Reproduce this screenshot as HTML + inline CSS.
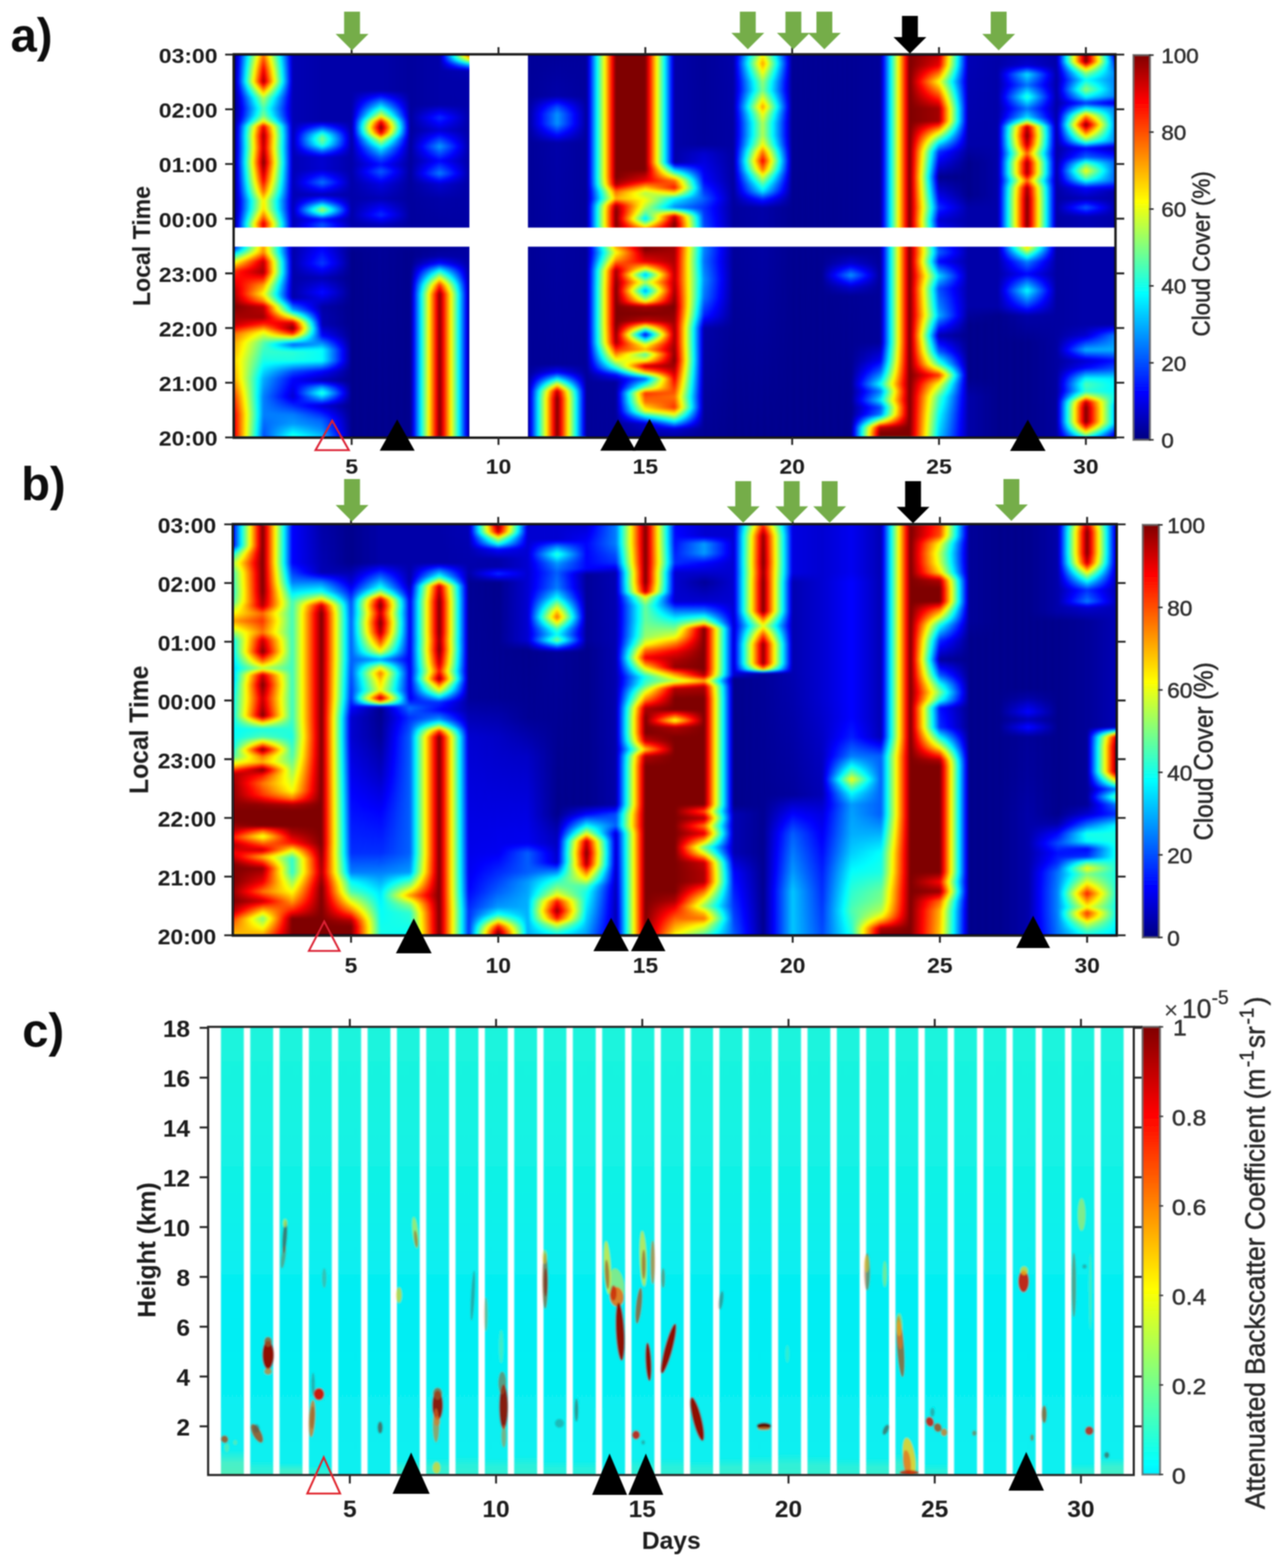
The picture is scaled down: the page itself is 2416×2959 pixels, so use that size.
<!DOCTYPE html>
<html lang="en"><head><meta charset="utf-8"><title>Cloud cover and attenuated backscatter</title>
<style>html,body{margin:0;padding:0;background:#fff}body{width:2416px;height:2959px;overflow:hidden}svg{display:block}text{font-family:"Liberation Sans", Arial, sans-serif}</style>
</head><body>
<svg width="2416" height="2959" viewBox="0 0 2416 2959" role="img" aria-label="Cloud cover and attenuated backscatter figure">
<defs>
<filter id="jetb" x="0" y="0" width="100%" height="100%" filterUnits="objectBoundingBox" color-interpolation-filters="sRGB"><feComponentTransfer><feFuncR type="table" tableValues="0 0 0 0 .5 1 1 1 .5"/><feFuncG type="table" tableValues="0 0 .5 1 1 1 .5 0 0"/><feFuncB type="table" tableValues=".5 1 1 1 .5 0 0 0 0"/></feComponentTransfer><feGaussianBlur stdDeviation="2"/></filter>
<filter id="soft" x="-5%" y="-5%" width="110%" height="110%"><feGaussianBlur stdDeviation="1.2"/></filter>
<filter id="soft2" x="-20%" y="-20%" width="140%" height="140%"><feGaussianBlur stdDeviation="1.7"/></filter>
<linearGradient id="cbj" x1="0" y1="1" x2="0" y2="0">
<stop offset="0" stop-color="rgb(0,0,128)"/>
<stop offset="0.12" stop-color="rgb(0,0,255)"/>
<stop offset="0.25" stop-color="rgb(0,128,255)"/>
<stop offset="0.38" stop-color="rgb(0,255,255)"/>
<stop offset="0.5" stop-color="rgb(128,255,128)"/>
<stop offset="0.62" stop-color="rgb(255,255,0)"/>
<stop offset="0.75" stop-color="rgb(255,128,0)"/>
<stop offset="0.88" stop-color="rgb(255,0,0)"/>
<stop offset="1" stop-color="rgb(128,0,0)"/>
</linearGradient>
</defs>
<rect width="2416" height="2959" fill="#fff"/>
<defs>
<linearGradient id="a1" gradientUnits="userSpaceOnUse" x1="0" y1="825.5" x2="0" y2="103">
<stop offset="0" stop-color="#e8e8e8"/>
<stop offset="0.0593" stop-color="#e4e4e4"/>
<stop offset="0.1063" stop-color="#d3d3d3"/>
<stop offset="0.1533" stop-color="#b8b8b8"/>
<stop offset="0.2004" stop-color="#adadad"/>
<stop offset="0.2474" stop-color="#b8b8b8"/>
<stop offset="0.2709" stop-color="#c5c5c5"/>
<stop offset="0.2944" stop-color="#efefef"/>
<stop offset="0.3415" stop-color="#ffffff"/>
<stop offset="0.3885" stop-color="#efefef"/>
<stop offset="0.4356" stop-color="#d3d3d3"/>
<stop offset="0.4591" stop-color="#999999"/>
<stop offset="0.4779" stop-color="#616161"/>
<stop offset="0.492" stop-color="#333333"/>
<stop offset="0.5296" stop-color="#000000"/>
<stop offset="1" stop-color="#000000"/>
</linearGradient>
<linearGradient id="a2" gradientUnits="userSpaceOnUse" x1="0" y1="825.5" x2="0" y2="103">
<stop offset="0" stop-color="#333333"/>
<stop offset="0.0593" stop-color="#404040"/>
<stop offset="0.1063" stop-color="#404040"/>
<stop offset="0.1533" stop-color="#4c4c4c"/>
<stop offset="0.2004" stop-color="#666666"/>
<stop offset="0.2474" stop-color="#757575"/>
<stop offset="0.2756" stop-color="#9e9e9e"/>
<stop offset="0.2944" stop-color="#d3d3d3"/>
<stop offset="0.3133" stop-color="#f6f6f6"/>
<stop offset="0.3415" stop-color="#efefef"/>
<stop offset="0.3556" stop-color="#bebebe"/>
<stop offset="0.3744" stop-color="#9e9e9e"/>
<stop offset="0.3979" stop-color="#b8b8b8"/>
<stop offset="0.4309" stop-color="#f6f6f6"/>
<stop offset="0.4591" stop-color="#efefef"/>
<stop offset="0.4826" stop-color="#bebebe"/>
<stop offset="0.4967" stop-color="#b8b8b8"/>
<stop offset="0.5296" stop-color="#d3d3d3"/>
<stop offset="0.5579" stop-color="#e8e8e8"/>
<stop offset="0.5767" stop-color="#c5c5c5"/>
<stop offset="0.5955" stop-color="#a8a8a8"/>
<stop offset="0.619" stop-color="#a3a3a3"/>
<stop offset="0.6425" stop-color="#c5c5c5"/>
<stop offset="0.6707" stop-color="#e1e1e1"/>
<stop offset="0.7178" stop-color="#ffffff"/>
<stop offset="0.7554" stop-color="#efefef"/>
<stop offset="0.7883" stop-color="#f6f6f6"/>
<stop offset="0.8119" stop-color="#e4e4e4"/>
<stop offset="0.826" stop-color="#9e9e9e"/>
<stop offset="0.8401" stop-color="#7f7f7f"/>
<stop offset="0.8589" stop-color="#737373"/>
<stop offset="0.8871" stop-color="#8c8c8c"/>
<stop offset="0.9059" stop-color="#b8b8b8"/>
<stop offset="0.9294" stop-color="#f6f6f6"/>
<stop offset="0.9624" stop-color="#e1e1e1"/>
<stop offset="1" stop-color="#c2c2c2"/>
</linearGradient>
<linearGradient id="a3" gradientUnits="userSpaceOnUse" x1="0" y1="825.5" x2="0" y2="103">
<stop offset="0" stop-color="#6b6b6b"/>
<stop offset="0.0357" stop-color="#474747"/>
<stop offset="0.0593" stop-color="#404040"/>
<stop offset="0.1063" stop-color="#151515"/>
<stop offset="0.1533" stop-color="#212121"/>
<stop offset="0.1722" stop-color="#333333"/>
<stop offset="0.2004" stop-color="#666666"/>
<stop offset="0.2239" stop-color="#6b6b6b"/>
<stop offset="0.2427" stop-color="#383838"/>
<stop offset="0.2592" stop-color="#8c8c8c"/>
<stop offset="0.2709" stop-color="#d3d3d3"/>
<stop offset="0.285" stop-color="#ffffff"/>
<stop offset="0.2992" stop-color="#e8e8e8"/>
<stop offset="0.3133" stop-color="#9e9e9e"/>
<stop offset="0.3321" stop-color="#4c4c4c"/>
<stop offset="0.365" stop-color="#0b0b0b"/>
<stop offset="0.4826" stop-color="#0b0b0b"/>
<stop offset="0.5532" stop-color="#0e0e0e"/>
<stop offset="1" stop-color="#0e0e0e"/>
</linearGradient>
<linearGradient id="a4" gradientUnits="userSpaceOnUse" x1="0" y1="825.5" x2="0" y2="103">
<stop offset="0" stop-color="#525252"/>
<stop offset="0.0216" stop-color="#424242"/>
<stop offset="0.0452" stop-color="#383838"/>
<stop offset="0.0828" stop-color="#151515"/>
<stop offset="0.0992" stop-color="#424242"/>
<stop offset="0.1157" stop-color="#6b6b6b"/>
<stop offset="0.1298" stop-color="#4c4c4c"/>
<stop offset="0.1486" stop-color="#0e0e0e"/>
<stop offset="0.1722" stop-color="#212121"/>
<stop offset="0.2004" stop-color="#616161"/>
<stop offset="0.2286" stop-color="#616161"/>
<stop offset="0.2662" stop-color="#212121"/>
<stop offset="0.2944" stop-color="#0e0e0e"/>
<stop offset="0.3415" stop-color="#0b0b0b"/>
<stop offset="0.3791" stop-color="#242424"/>
<stop offset="0.4167" stop-color="#0e0e0e"/>
<stop offset="0.4544" stop-color="#2f2f2f"/>
<stop offset="0.492" stop-color="#212121"/>
<stop offset="0.5296" stop-color="#1d1d1d"/>
<stop offset="0.5532" stop-color="#383838"/>
<stop offset="0.5696" stop-color="#242424"/>
<stop offset="0.5837" stop-color="#666666"/>
<stop offset="0.5931" stop-color="#8a8a8a"/>
<stop offset="0.6002" stop-color="#7a7a7a"/>
<stop offset="0.6143" stop-color="#404040"/>
<stop offset="0.6331" stop-color="#0e0e0e"/>
<stop offset="0.666" stop-color="#3d3d3d"/>
<stop offset="0.699" stop-color="#151515"/>
<stop offset="0.7319" stop-color="#151515"/>
<stop offset="0.7484" stop-color="#3d3d3d"/>
<stop offset="0.7648" stop-color="#707070"/>
<stop offset="0.7789" stop-color="#7f7f7f"/>
<stop offset="0.7907" stop-color="#707070"/>
<stop offset="0.8071" stop-color="#3d3d3d"/>
<stop offset="0.826" stop-color="#0b0b0b"/>
<stop offset="1" stop-color="#0b0b0b"/>
</linearGradient>
<linearGradient id="a5" gradientUnits="userSpaceOnUse" x1="0" y1="825.5" x2="0" y2="103">
<stop offset="0" stop-color="#040404"/>
<stop offset="0.4826" stop-color="#040404"/>
<stop offset="0.5296" stop-color="#0b0b0b"/>
<stop offset="1" stop-color="#0b0b0b"/>
</linearGradient>
<linearGradient id="a6" gradientUnits="userSpaceOnUse" x1="0" y1="825.5" x2="0" y2="103">
<stop offset="0" stop-color="#040404"/>
<stop offset="0.4967" stop-color="#070707"/>
<stop offset="0.5532" stop-color="#0e0e0e"/>
<stop offset="0.5814" stop-color="#2c2c2c"/>
<stop offset="0.6237" stop-color="#0e0e0e"/>
<stop offset="0.6613" stop-color="#191919"/>
<stop offset="0.6943" stop-color="#383838"/>
<stop offset="0.7131" stop-color="#242424"/>
<stop offset="0.7319" stop-color="#383838"/>
<stop offset="0.7554" stop-color="#5c5c5c"/>
<stop offset="0.7789" stop-color="#999999"/>
<stop offset="0.7954" stop-color="#e4e4e4"/>
<stop offset="0.8095" stop-color="#ffffff"/>
<stop offset="0.8236" stop-color="#e4e4e4"/>
<stop offset="0.8401" stop-color="#999999"/>
<stop offset="0.8636" stop-color="#5c5c5c"/>
<stop offset="0.8871" stop-color="#2c2c2c"/>
<stop offset="0.9059" stop-color="#0b0b0b"/>
<stop offset="1" stop-color="#0b0b0b"/>
</linearGradient>
<linearGradient id="a7" gradientUnits="userSpaceOnUse" x1="0" y1="825.5" x2="0" y2="103">
<stop offset="0" stop-color="#040404"/>
<stop offset="0.4826" stop-color="#040404"/>
<stop offset="0.5296" stop-color="#080808"/>
<stop offset="1" stop-color="#080808"/>
</linearGradient>
<linearGradient id="a8" gradientUnits="userSpaceOnUse" x1="0" y1="825.5" x2="0" y2="103">
<stop offset="0" stop-color="#ffffff"/>
<stop offset="0.3744" stop-color="#fcfcfc"/>
<stop offset="0.3979" stop-color="#d3d3d3"/>
<stop offset="0.4167" stop-color="#999999"/>
<stop offset="0.4356" stop-color="#616161"/>
<stop offset="0.4544" stop-color="#242424"/>
<stop offset="0.4732" stop-color="#0b0b0b"/>
<stop offset="0.492" stop-color="#070707"/>
<stop offset="0.6237" stop-color="#0b0b0b"/>
<stop offset="0.6613" stop-color="#151515"/>
<stop offset="0.6896" stop-color="#404040"/>
<stop offset="0.7225" stop-color="#212121"/>
<stop offset="0.7601" stop-color="#474747"/>
<stop offset="0.8024" stop-color="#151515"/>
<stop offset="0.8354" stop-color="#2c2c2c"/>
<stop offset="0.8683" stop-color="#0b0b0b"/>
<stop offset="1" stop-color="#0b0b0b"/>
</linearGradient>
<linearGradient id="a9" gradientUnits="userSpaceOnUse" x1="0" y1="825.5" x2="0" y2="103">
<stop offset="0" stop-color="#080808"/>
<stop offset="0.9294" stop-color="#0b0b0b"/>
<stop offset="0.9577" stop-color="#0e0e0e"/>
<stop offset="0.9741" stop-color="#525252"/>
<stop offset="0.9859" stop-color="#999999"/>
<stop offset="1" stop-color="#cccccc"/>
</linearGradient>
<linearGradient id="a10" gradientUnits="userSpaceOnUse" x1="0" y1="825.5" x2="0" y2="103">
<stop offset="0" stop-color="#070707"/>
<stop offset="1" stop-color="#070707"/>
</linearGradient>
<linearGradient id="a11" gradientUnits="userSpaceOnUse" x1="0" y1="825.5" x2="0" y2="103">
<stop offset="0" stop-color="#060606"/>
<stop offset="1" stop-color="#070707"/>
</linearGradient>
<linearGradient id="a12" gradientUnits="userSpaceOnUse" x1="0" y1="825.5" x2="0" y2="103">
<stop offset="0" stop-color="#ffffff"/>
<stop offset="0.1016" stop-color="#ffffff"/>
<stop offset="0.1204" stop-color="#efefef"/>
<stop offset="0.1392" stop-color="#999999"/>
<stop offset="0.1533" stop-color="#5c5c5c"/>
<stop offset="0.1698" stop-color="#212121"/>
<stop offset="0.191" stop-color="#070707"/>
<stop offset="0.7695" stop-color="#0b0b0b"/>
<stop offset="0.7977" stop-color="#2c2c2c"/>
<stop offset="0.8189" stop-color="#454545"/>
<stop offset="0.8448" stop-color="#454545"/>
<stop offset="0.8636" stop-color="#333333"/>
<stop offset="0.8918" stop-color="#0b0b0b"/>
<stop offset="1" stop-color="#070707"/>
</linearGradient>
<linearGradient id="a13" gradientUnits="userSpaceOnUse" x1="0" y1="825.5" x2="0" y2="103">
<stop offset="0" stop-color="#070707"/>
<stop offset="1" stop-color="#080808"/>
</linearGradient>
<linearGradient id="a14" gradientUnits="userSpaceOnUse" x1="0" y1="825.5" x2="0" y2="103">
<stop offset="0" stop-color="#070707"/>
<stop offset="0.1439" stop-color="#080808"/>
<stop offset="0.1627" stop-color="#212121"/>
<stop offset="0.1816" stop-color="#666666"/>
<stop offset="0.2004" stop-color="#999999"/>
<stop offset="0.2192" stop-color="#c2c2c2"/>
<stop offset="0.2474" stop-color="#f6f6f6"/>
<stop offset="0.2944" stop-color="#ffffff"/>
<stop offset="0.3415" stop-color="#ffffff"/>
<stop offset="0.3885" stop-color="#ffffff"/>
<stop offset="0.4356" stop-color="#f6f6f6"/>
<stop offset="0.4638" stop-color="#b8b8b8"/>
<stop offset="0.4826" stop-color="#9e9e9e"/>
<stop offset="0.4967" stop-color="#b2b2b2"/>
<stop offset="0.5532" stop-color="#ffffff"/>
<stop offset="0.5908" stop-color="#ffffff"/>
<stop offset="0.6049" stop-color="#f6f6f6"/>
<stop offset="0.6237" stop-color="#b2b2b2"/>
<stop offset="0.6425" stop-color="#c5c5c5"/>
<stop offset="0.6613" stop-color="#f6f6f6"/>
<stop offset="0.6802" stop-color="#ffffff"/>
<stop offset="1" stop-color="#ffffff"/>
</linearGradient>
<linearGradient id="a15" gradientUnits="userSpaceOnUse" x1="0" y1="825.5" x2="0" y2="103">
<stop offset="0" stop-color="#070707"/>
<stop offset="0.0357" stop-color="#151515"/>
<stop offset="0.0546" stop-color="#595959"/>
<stop offset="0.0687" stop-color="#999999"/>
<stop offset="0.0922" stop-color="#c2c2c2"/>
<stop offset="0.1157" stop-color="#d3d3d3"/>
<stop offset="0.1298" stop-color="#7f7f7f"/>
<stop offset="0.1533" stop-color="#383838"/>
<stop offset="0.1722" stop-color="#b8b8b8"/>
<stop offset="0.1863" stop-color="#efefef"/>
<stop offset="0.2004" stop-color="#9e9e9e"/>
<stop offset="0.2168" stop-color="#737373"/>
<stop offset="0.2286" stop-color="#b2b2b2"/>
<stop offset="0.2427" stop-color="#999999"/>
<stop offset="0.2686" stop-color="#1d1d1d"/>
<stop offset="0.2897" stop-color="#999999"/>
<stop offset="0.3039" stop-color="#efefef"/>
<stop offset="0.3227" stop-color="#ffffff"/>
<stop offset="0.3415" stop-color="#f6f6f6"/>
<stop offset="0.3556" stop-color="#999999"/>
<stop offset="0.3829" stop-color="#474747"/>
<stop offset="0.405" stop-color="#8c8c8c"/>
<stop offset="0.4252" stop-color="#4c4c4c"/>
<stop offset="0.4403" stop-color="#999999"/>
<stop offset="0.4591" stop-color="#e4e4e4"/>
<stop offset="0.492" stop-color="#ffffff"/>
<stop offset="0.5296" stop-color="#f6f6f6"/>
<stop offset="0.5532" stop-color="#999999"/>
<stop offset="0.571" stop-color="#575757"/>
<stop offset="0.5837" stop-color="#737373"/>
<stop offset="0.6002" stop-color="#8c8c8c"/>
<stop offset="0.619" stop-color="#9e9e9e"/>
<stop offset="0.6378" stop-color="#8c8c8c"/>
<stop offset="0.6519" stop-color="#adadad"/>
<stop offset="0.6707" stop-color="#e4e4e4"/>
<stop offset="0.699" stop-color="#ffffff"/>
<stop offset="1" stop-color="#ffffff"/>
</linearGradient>
<linearGradient id="a16" gradientUnits="userSpaceOnUse" x1="0" y1="825.5" x2="0" y2="103">
<stop offset="0" stop-color="#080808"/>
<stop offset="0.0216" stop-color="#151515"/>
<stop offset="0.0405" stop-color="#595959"/>
<stop offset="0.0593" stop-color="#999999"/>
<stop offset="0.0781" stop-color="#d3d3d3"/>
<stop offset="0.1063" stop-color="#c2c2c2"/>
<stop offset="0.1298" stop-color="#d3d3d3"/>
<stop offset="0.1722" stop-color="#efefef"/>
<stop offset="0.2004" stop-color="#ffffff"/>
<stop offset="0.2474" stop-color="#f6f6f6"/>
<stop offset="0.2944" stop-color="#f6f6f6"/>
<stop offset="0.3415" stop-color="#ffffff"/>
<stop offset="0.412" stop-color="#efefef"/>
<stop offset="0.492" stop-color="#f6f6f6"/>
<stop offset="0.5579" stop-color="#ffffff"/>
<stop offset="0.5767" stop-color="#efefef"/>
<stop offset="0.6002" stop-color="#424242"/>
<stop offset="0.6237" stop-color="#616161"/>
<stop offset="0.6355" stop-color="#999999"/>
<stop offset="0.6519" stop-color="#dadada"/>
<stop offset="0.6707" stop-color="#c2c2c2"/>
<stop offset="0.699" stop-color="#525252"/>
<stop offset="0.7178" stop-color="#0b0b0b"/>
<stop offset="1" stop-color="#0b0b0b"/>
</linearGradient>
<linearGradient id="a17" gradientUnits="userSpaceOnUse" x1="0" y1="825.5" x2="0" y2="103">
<stop offset="0" stop-color="#060606"/>
<stop offset="0.285" stop-color="#0b0b0b"/>
<stop offset="0.318" stop-color="#282828"/>
<stop offset="0.365" stop-color="#3d3d3d"/>
<stop offset="0.412" stop-color="#454545"/>
<stop offset="0.4591" stop-color="#3d3d3d"/>
<stop offset="0.492" stop-color="#424242"/>
<stop offset="0.5532" stop-color="#333333"/>
<stop offset="0.6002" stop-color="#2c2c2c"/>
<stop offset="0.6237" stop-color="#383838"/>
<stop offset="0.6707" stop-color="#212121"/>
<stop offset="0.7413" stop-color="#151515"/>
<stop offset="0.7648" stop-color="#080808"/>
<stop offset="1" stop-color="#070707"/>
</linearGradient>
<linearGradient id="a18" gradientUnits="userSpaceOnUse" x1="0" y1="825.5" x2="0" y2="103">
<stop offset="0" stop-color="#040404"/>
<stop offset="0.5767" stop-color="#080808"/>
<stop offset="1" stop-color="#0b0b0b"/>
</linearGradient>
<linearGradient id="a19" gradientUnits="userSpaceOnUse" x1="0" y1="825.5" x2="0" y2="103">
<stop offset="0" stop-color="#040404"/>
<stop offset="0.6002" stop-color="#0b0b0b"/>
<stop offset="0.6237" stop-color="#2c2c2c"/>
<stop offset="0.6425" stop-color="#595959"/>
<stop offset="0.6613" stop-color="#737373"/>
<stop offset="0.6849" stop-color="#9e9e9e"/>
<stop offset="0.699" stop-color="#c2c2c2"/>
<stop offset="0.7225" stop-color="#e1e1e1"/>
<stop offset="0.746" stop-color="#c2c2c2"/>
<stop offset="0.7648" stop-color="#9e9e9e"/>
<stop offset="0.7883" stop-color="#8c8c8c"/>
<stop offset="0.8213" stop-color="#8c8c8c"/>
<stop offset="0.8448" stop-color="#9e9e9e"/>
<stop offset="0.8636" stop-color="#b8b8b8"/>
<stop offset="0.8824" stop-color="#9e9e9e"/>
<stop offset="0.9059" stop-color="#7f7f7f"/>
<stop offset="0.9294" stop-color="#858585"/>
<stop offset="0.953" stop-color="#9e9e9e"/>
<stop offset="0.9765" stop-color="#b8b8b8"/>
<stop offset="1" stop-color="#9e9e9e"/>
</linearGradient>
<linearGradient id="a20" gradientUnits="userSpaceOnUse" x1="0" y1="825.5" x2="0" y2="103">
<stop offset="0" stop-color="#040404"/>
<stop offset="1" stop-color="#060606"/>
</linearGradient>
<linearGradient id="a21" gradientUnits="userSpaceOnUse" x1="0" y1="825.5" x2="0" y2="103">
<stop offset="0" stop-color="#040404"/>
<stop offset="1" stop-color="#060606"/>
</linearGradient>
<linearGradient id="a22" gradientUnits="userSpaceOnUse" x1="0" y1="825.5" x2="0" y2="103">
<stop offset="0" stop-color="#040404"/>
<stop offset="0.3697" stop-color="#060606"/>
<stop offset="0.3932" stop-color="#151515"/>
<stop offset="0.4238" stop-color="#454545"/>
<stop offset="0.4544" stop-color="#151515"/>
<stop offset="0.4826" stop-color="#060606"/>
<stop offset="1" stop-color="#060606"/>
</linearGradient>
<linearGradient id="a23" gradientUnits="userSpaceOnUse" x1="0" y1="825.5" x2="0" y2="103">
<stop offset="0" stop-color="#ffffff"/>
<stop offset="0.0122" stop-color="#ffffff"/>
<stop offset="0.0263" stop-color="#efefef"/>
<stop offset="0.0405" stop-color="#999999"/>
<stop offset="0.0593" stop-color="#404040"/>
<stop offset="0.0781" stop-color="#333333"/>
<stop offset="0.0969" stop-color="#595959"/>
<stop offset="0.1204" stop-color="#404040"/>
<stop offset="0.1392" stop-color="#616161"/>
<stop offset="0.1722" stop-color="#383838"/>
<stop offset="0.2004" stop-color="#1d1d1d"/>
<stop offset="0.2474" stop-color="#070707"/>
<stop offset="1" stop-color="#070707"/>
</linearGradient>
<linearGradient id="a24" gradientUnits="userSpaceOnUse" x1="0" y1="825.5" x2="0" y2="103">
<stop offset="0" stop-color="#ffffff"/>
<stop offset="1" stop-color="#ffffff"/>
</linearGradient>
<linearGradient id="a25" gradientUnits="userSpaceOnUse" x1="0" y1="825.5" x2="0" y2="103">
<stop offset="0" stop-color="#525252"/>
<stop offset="0.0593" stop-color="#616161"/>
<stop offset="0.1063" stop-color="#737373"/>
<stop offset="0.1392" stop-color="#9e9e9e"/>
<stop offset="0.1627" stop-color="#d3d3d3"/>
<stop offset="0.191" stop-color="#737373"/>
<stop offset="0.2239" stop-color="#383838"/>
<stop offset="0.2662" stop-color="#0d0d0d"/>
<stop offset="0.318" stop-color="#4c4c4c"/>
<stop offset="0.3415" stop-color="#424242"/>
<stop offset="0.3885" stop-color="#333333"/>
<stop offset="0.4214" stop-color="#575757"/>
<stop offset="0.4591" stop-color="#212121"/>
<stop offset="0.4826" stop-color="#383838"/>
<stop offset="0.5673" stop-color="#151515"/>
<stop offset="0.6002" stop-color="#2c2c2c"/>
<stop offset="0.6425" stop-color="#151515"/>
<stop offset="0.6802" stop-color="#040404"/>
<stop offset="0.746" stop-color="#2c2c2c"/>
<stop offset="0.7648" stop-color="#525252"/>
<stop offset="0.7836" stop-color="#7f7f7f"/>
<stop offset="0.8024" stop-color="#b2b2b2"/>
<stop offset="0.826" stop-color="#f6f6f6"/>
<stop offset="0.8589" stop-color="#f6f6f6"/>
<stop offset="0.8824" stop-color="#dadada"/>
<stop offset="0.9294" stop-color="#9e9e9e"/>
<stop offset="0.9718" stop-color="#e4e4e4"/>
<stop offset="1" stop-color="#efefef"/>
</linearGradient>
<linearGradient id="a26" gradientUnits="userSpaceOnUse" x1="0" y1="825.5" x2="0" y2="103">
<stop offset="0" stop-color="#0b0b0b"/>
<stop offset="0.1063" stop-color="#0b0b0b"/>
<stop offset="0.1533" stop-color="#040404"/>
<stop offset="0.2944" stop-color="#040404"/>
<stop offset="0.3415" stop-color="#0b0b0b"/>
<stop offset="0.6002" stop-color="#0b0b0b"/>
<stop offset="0.6331" stop-color="#040404"/>
<stop offset="0.7178" stop-color="#040404"/>
<stop offset="0.7648" stop-color="#0b0b0b"/>
<stop offset="1" stop-color="#0e0e0e"/>
</linearGradient>
<linearGradient id="a27" gradientUnits="userSpaceOnUse" x1="0" y1="825.5" x2="0" y2="103">
<stop offset="0" stop-color="#040404"/>
<stop offset="0.318" stop-color="#040404"/>
<stop offset="0.3415" stop-color="#0b0b0b"/>
<stop offset="1" stop-color="#0b0b0b"/>
</linearGradient>
<linearGradient id="a28" gradientUnits="userSpaceOnUse" x1="0" y1="825.5" x2="0" y2="103">
<stop offset="0" stop-color="#040404"/>
<stop offset="0.2474" stop-color="#040404"/>
<stop offset="0.318" stop-color="#0b0b0b"/>
<stop offset="0.3415" stop-color="#2c2c2c"/>
<stop offset="0.3838" stop-color="#616161"/>
<stop offset="0.4262" stop-color="#212121"/>
<stop offset="0.4591" stop-color="#404040"/>
<stop offset="0.4779" stop-color="#737373"/>
<stop offset="0.492" stop-color="#9e9e9e"/>
<stop offset="0.5532" stop-color="#ffffff"/>
<stop offset="0.6237" stop-color="#ffffff"/>
<stop offset="0.6519" stop-color="#f6f6f6"/>
<stop offset="0.6707" stop-color="#c5c5c5"/>
<stop offset="0.6896" stop-color="#f6f6f6"/>
<stop offset="0.7178" stop-color="#f6f6f6"/>
<stop offset="0.7413" stop-color="#c5c5c5"/>
<stop offset="0.7648" stop-color="#efefef"/>
<stop offset="0.7883" stop-color="#ffffff"/>
<stop offset="0.8119" stop-color="#efefef"/>
<stop offset="0.8213" stop-color="#9e9e9e"/>
<stop offset="0.8354" stop-color="#595959"/>
<stop offset="0.8589" stop-color="#3d3d3d"/>
<stop offset="0.8895" stop-color="#6b6b6b"/>
<stop offset="0.92" stop-color="#3d3d3d"/>
<stop offset="0.9483" stop-color="#595959"/>
<stop offset="0.9718" stop-color="#151515"/>
<stop offset="1" stop-color="#0e0e0e"/>
</linearGradient>
<linearGradient id="a29" gradientUnits="userSpaceOnUse" x1="0" y1="825.5" x2="0" y2="103">
<stop offset="0" stop-color="#080808"/>
<stop offset="1" stop-color="#0b0b0b"/>
</linearGradient>
<linearGradient id="a30" gradientUnits="userSpaceOnUse" x1="0" y1="825.5" x2="0" y2="103">
<stop offset="0" stop-color="#666666"/>
<stop offset="0.0122" stop-color="#999999"/>
<stop offset="0.0263" stop-color="#d3d3d3"/>
<stop offset="0.0405" stop-color="#ffffff"/>
<stop offset="0.0781" stop-color="#ffffff"/>
<stop offset="0.0922" stop-color="#efefef"/>
<stop offset="0.1063" stop-color="#9e9e9e"/>
<stop offset="0.1204" stop-color="#6b6b6b"/>
<stop offset="0.1392" stop-color="#737373"/>
<stop offset="0.1533" stop-color="#616161"/>
<stop offset="0.1816" stop-color="#212121"/>
<stop offset="0.2004" stop-color="#151515"/>
<stop offset="0.2286" stop-color="#4c4c4c"/>
<stop offset="0.2662" stop-color="#151515"/>
<stop offset="0.2944" stop-color="#0b0b0b"/>
<stop offset="0.492" stop-color="#0b0b0b"/>
<stop offset="0.5767" stop-color="#0e0e0e"/>
<stop offset="0.6002" stop-color="#383838"/>
<stop offset="0.6237" stop-color="#0e0e0e"/>
<stop offset="0.6519" stop-color="#212121"/>
<stop offset="0.6754" stop-color="#737373"/>
<stop offset="0.6966" stop-color="#9e9e9e"/>
<stop offset="0.7131" stop-color="#7a7a7a"/>
<stop offset="0.7319" stop-color="#383838"/>
<stop offset="0.7554" stop-color="#212121"/>
<stop offset="0.7742" stop-color="#7a7a7a"/>
<stop offset="0.793" stop-color="#b8b8b8"/>
<stop offset="0.8166" stop-color="#ffffff"/>
<stop offset="0.8401" stop-color="#b8b8b8"/>
<stop offset="0.8542" stop-color="#737373"/>
<stop offset="0.873" stop-color="#2c2c2c"/>
<stop offset="0.8871" stop-color="#595959"/>
<stop offset="0.9083" stop-color="#858585"/>
<stop offset="0.9341" stop-color="#616161"/>
<stop offset="0.953" stop-color="#858585"/>
<stop offset="0.9671" stop-color="#b8b8b8"/>
<stop offset="0.9812" stop-color="#ffffff"/>
<stop offset="1" stop-color="#ffffff"/>
</linearGradient>
<linearGradient id="a31" gradientUnits="userSpaceOnUse" x1="0" y1="825.5" x2="0" y2="103">
<stop offset="0" stop-color="#151515"/>
<stop offset="0.0122" stop-color="#212121"/>
<stop offset="0.0357" stop-color="#4c4c4c"/>
<stop offset="0.0828" stop-color="#4c4c4c"/>
<stop offset="0.1063" stop-color="#616161"/>
<stop offset="0.1533" stop-color="#5c5c5c"/>
<stop offset="0.1769" stop-color="#383838"/>
<stop offset="0.2004" stop-color="#242424"/>
<stop offset="0.2286" stop-color="#4c4c4c"/>
<stop offset="0.2662" stop-color="#404040"/>
<stop offset="0.2944" stop-color="#0b0b0b"/>
<stop offset="0.6425" stop-color="#0b0b0b"/>
<stop offset="0.6707" stop-color="#383838"/>
<stop offset="0.7178" stop-color="#383838"/>
<stop offset="0.7554" stop-color="#0e0e0e"/>
<stop offset="0.7742" stop-color="#404040"/>
<stop offset="0.8589" stop-color="#404040"/>
<stop offset="0.873" stop-color="#151515"/>
<stop offset="0.8918" stop-color="#404040"/>
<stop offset="0.953" stop-color="#404040"/>
<stop offset="1" stop-color="#151515"/>
</linearGradient>
<linearGradient id="asaw1" gradientUnits="userSpaceOnUse" x1="442" y1="0" x2="552.87" y2="0" spreadMethod="repeat"><stop offset="0" stop-color="#fff" stop-opacity="0"/><stop offset="0.5" stop-color="#fff" stop-opacity="1"/><stop offset="0.5" stop-color="#fff" stop-opacity="0"/><stop offset="1" stop-color="#fff" stop-opacity="0"/></linearGradient>
<mask id="am1" maskUnits="userSpaceOnUse" x="437" y="103" width="1673" height="722.5" style="mask-type:alpha"><rect x="437" y="103" width="1673" height="722.5" fill="url(#asaw1)"/></mask>
<linearGradient id="asaw2" gradientUnits="userSpaceOnUse" x1="497.43" y1="0" x2="608.3" y2="0" spreadMethod="repeat"><stop offset="0" stop-color="#fff" stop-opacity="0"/><stop offset="0.5" stop-color="#fff" stop-opacity="1"/><stop offset="0.5" stop-color="#fff" stop-opacity="0"/><stop offset="1" stop-color="#fff" stop-opacity="0"/></linearGradient>
<mask id="am2" maskUnits="userSpaceOnUse" x="437" y="103" width="1673" height="722.5" style="mask-type:alpha"><rect x="437" y="103" width="1673" height="722.5" fill="url(#asaw2)"/></mask>
<clipPath id="ac"><rect x="442" y="103" width="1663" height="722.5"/></clipPath>
</defs>
<g clip-path="url(#ac)"><g filter="url(#jetb)">
<rect x="422" y="83" width="1703" height="762.5" fill="#000"/>
<rect x="440.5" y="103" width="56.93" height="722.5" fill="url(#a1)"/>
<rect x="495.93" y="103" width="56.93" height="722.5" fill="url(#a2)"/>
<rect x="551.37" y="103" width="56.93" height="722.5" fill="url(#a3)"/>
<rect x="606.8" y="103" width="56.93" height="722.5" fill="url(#a4)"/>
<rect x="662.23" y="103" width="56.93" height="722.5" fill="url(#a5)"/>
<rect x="717.67" y="103" width="56.93" height="722.5" fill="url(#a6)"/>
<rect x="773.1" y="103" width="56.93" height="722.5" fill="url(#a7)"/>
<rect x="828.53" y="103" width="56.93" height="722.5" fill="url(#a8)"/>
<rect x="883.97" y="103" width="56.93" height="722.5" fill="url(#a9)"/>
<rect x="939.4" y="103" width="56.93" height="722.5" fill="url(#a10)"/>
<rect x="994.83" y="103" width="56.93" height="722.5" fill="url(#a11)"/>
<rect x="1050.27" y="103" width="56.93" height="722.5" fill="url(#a12)"/>
<rect x="1105.7" y="103" width="56.93" height="722.5" fill="url(#a13)"/>
<rect x="1161.13" y="103" width="56.93" height="722.5" fill="url(#a14)"/>
<rect x="1216.57" y="103" width="56.93" height="722.5" fill="url(#a15)"/>
<rect x="1272" y="103" width="56.93" height="722.5" fill="url(#a16)"/>
<rect x="1327.43" y="103" width="56.93" height="722.5" fill="url(#a17)"/>
<rect x="1382.87" y="103" width="56.93" height="722.5" fill="url(#a18)"/>
<rect x="1438.3" y="103" width="56.93" height="722.5" fill="url(#a19)"/>
<rect x="1493.73" y="103" width="56.93" height="722.5" fill="url(#a20)"/>
<rect x="1549.17" y="103" width="56.93" height="722.5" fill="url(#a21)"/>
<rect x="1604.6" y="103" width="56.93" height="722.5" fill="url(#a22)"/>
<rect x="1660.03" y="103" width="56.93" height="722.5" fill="url(#a23)"/>
<rect x="1715.47" y="103" width="56.93" height="722.5" fill="url(#a24)"/>
<rect x="1770.9" y="103" width="56.93" height="722.5" fill="url(#a25)"/>
<rect x="1826.33" y="103" width="56.93" height="722.5" fill="url(#a26)"/>
<rect x="1881.77" y="103" width="56.93" height="722.5" fill="url(#a27)"/>
<rect x="1937.2" y="103" width="56.93" height="722.5" fill="url(#a28)"/>
<rect x="1992.63" y="103" width="56.93" height="722.5" fill="url(#a29)"/>
<rect x="2048.07" y="103" width="56.93" height="722.5" fill="url(#a30)"/>
<g mask="url(#am1)">
<rect x="442" y="103" width="56.93" height="722.5" fill="url(#a2)"/>
<rect x="552.87" y="103" width="56.93" height="722.5" fill="url(#a4)"/>
<rect x="663.73" y="103" width="56.93" height="722.5" fill="url(#a6)"/>
<rect x="774.6" y="103" width="56.93" height="722.5" fill="url(#a8)"/>
<rect x="885.47" y="103" width="56.93" height="722.5" fill="url(#a10)"/>
<rect x="996.33" y="103" width="56.93" height="722.5" fill="url(#a12)"/>
<rect x="1107.2" y="103" width="56.93" height="722.5" fill="url(#a14)"/>
<rect x="1218.07" y="103" width="56.93" height="722.5" fill="url(#a16)"/>
<rect x="1328.93" y="103" width="56.93" height="722.5" fill="url(#a18)"/>
<rect x="1439.8" y="103" width="56.93" height="722.5" fill="url(#a20)"/>
<rect x="1550.67" y="103" width="56.93" height="722.5" fill="url(#a22)"/>
<rect x="1661.53" y="103" width="56.93" height="722.5" fill="url(#a24)"/>
<rect x="1772.4" y="103" width="56.93" height="722.5" fill="url(#a26)"/>
<rect x="1883.27" y="103" width="56.93" height="722.5" fill="url(#a28)"/>
<rect x="1994.13" y="103" width="56.93" height="722.5" fill="url(#a30)"/>
</g>
<g mask="url(#am2)">
<rect x="497.43" y="103" width="56.93" height="722.5" fill="url(#a3)"/>
<rect x="608.3" y="103" width="56.93" height="722.5" fill="url(#a5)"/>
<rect x="719.17" y="103" width="56.93" height="722.5" fill="url(#a7)"/>
<rect x="830.03" y="103" width="56.93" height="722.5" fill="url(#a9)"/>
<rect x="940.9" y="103" width="56.93" height="722.5" fill="url(#a11)"/>
<rect x="1051.77" y="103" width="56.93" height="722.5" fill="url(#a13)"/>
<rect x="1162.63" y="103" width="56.93" height="722.5" fill="url(#a15)"/>
<rect x="1273.5" y="103" width="56.93" height="722.5" fill="url(#a17)"/>
<rect x="1384.37" y="103" width="56.93" height="722.5" fill="url(#a19)"/>
<rect x="1495.23" y="103" width="56.93" height="722.5" fill="url(#a21)"/>
<rect x="1606.1" y="103" width="56.93" height="722.5" fill="url(#a23)"/>
<rect x="1716.97" y="103" width="56.93" height="722.5" fill="url(#a25)"/>
<rect x="1827.83" y="103" width="56.93" height="722.5" fill="url(#a27)"/>
<rect x="1938.7" y="103" width="56.93" height="722.5" fill="url(#a29)"/>
<rect x="2049.57" y="103" width="56.93" height="722.5" fill="url(#a31)"/>
</g>
</g></g>
<rect x="886" y="100" width="110.5" height="728" fill="#fff" filter="url(#soft)"/>
<rect x="440" y="429.5" width="1668" height="36" fill="#fff" filter="url(#soft)"/>
<g filter="url(#soft)">
<path d="M441 102.5H2105.5V826H441Z" fill="none" stroke="#161616" stroke-width="4.4"/>
<path d="M441 825.5h-16M2106 825.5h16M441 722.29h-16M2106 722.29h16M441 619.07h-16M2106 619.07h16M441 515.86h-16M2106 515.86h16M441 412.64h-16M2106 412.64h16M441 309.43h-16M2106 309.43h16M441 206.21h-16M2106 206.21h16M441 103h-16M2106 103h16M663.73 825.5v14M663.73 103v-14M940.9 825.5v14M940.9 103v-14M1218.07 825.5v14M1218.07 103v-14M1495.23 825.5v14M1495.23 103v-14M1772.4 825.5v14M1772.4 103v-14M2049.57 825.5v14M2049.57 103v-14" stroke="#262626" stroke-width="3.6" fill="none"/>
<rect x="2139.5" y="104" width="31" height="726" fill="url(#cbj)"/>
<rect x="2139.5" y="104" width="31" height="726" fill="none" stroke="#555" stroke-opacity="0.75" stroke-width="4"/>
<path d="M2177.5 830h-9M2177.5 684.8h-9M2177.5 539.6h-9M2177.5 394.4h-9M2177.5 249.2h-9M2177.5 104h-9" stroke="#333" stroke-width="3" fill="none"/>
<text transform="translate(410.5 841.46) scale(1.11 1)" font-size="39" text-anchor="end" font-weight="bold" fill="#1c1c1c">20:00</text>
<text transform="translate(410.5 738.25) scale(1.11 1)" font-size="39" text-anchor="end" font-weight="bold" fill="#1c1c1c">21:00</text>
<text transform="translate(410.5 635.03) scale(1.11 1)" font-size="39" text-anchor="end" font-weight="bold" fill="#1c1c1c">22:00</text>
<text transform="translate(410.5 531.82) scale(1.11 1)" font-size="39" text-anchor="end" font-weight="bold" fill="#1c1c1c">23:00</text>
<text transform="translate(410.5 428.6) scale(1.11 1)" font-size="39" text-anchor="end" font-weight="bold" fill="#1c1c1c">00:00</text>
<text transform="translate(410.5 325.39) scale(1.11 1)" font-size="39" text-anchor="end" font-weight="bold" fill="#1c1c1c">01:00</text>
<text transform="translate(410.5 222.18) scale(1.11 1)" font-size="39" text-anchor="end" font-weight="bold" fill="#1c1c1c">02:00</text>
<text transform="translate(410.5 118.96) scale(1.11 1)" font-size="39" text-anchor="end" font-weight="bold" fill="#1c1c1c">03:00</text>
<text transform="translate(663.73 894) scale(1.11 1)" font-size="39" text-anchor="middle" font-weight="bold" fill="#1c1c1c">5</text>
<text transform="translate(940.9 894) scale(1.11 1)" font-size="39" text-anchor="middle" font-weight="bold" fill="#1c1c1c">10</text>
<text transform="translate(1218.07 894) scale(1.11 1)" font-size="39" text-anchor="middle" font-weight="bold" fill="#1c1c1c">15</text>
<text transform="translate(1495.23 894) scale(1.11 1)" font-size="39" text-anchor="middle" font-weight="bold" fill="#1c1c1c">20</text>
<text transform="translate(1772.4 894) scale(1.11 1)" font-size="39" text-anchor="middle" font-weight="bold" fill="#1c1c1c">25</text>
<text transform="translate(2049.57 894) scale(1.11 1)" font-size="39" text-anchor="middle" font-weight="bold" fill="#1c1c1c">30</text>
<text transform="translate(2192 844.78) scale(1.1 1)" font-size="38.5" text-anchor="start" font-weight="normal" fill="#333" stroke="#333" stroke-width="0.9">0</text>
<text transform="translate(2192 699.58) scale(1.1 1)" font-size="38.5" text-anchor="start" font-weight="normal" fill="#333" stroke="#333" stroke-width="0.9">20</text>
<text transform="translate(2192 554.38) scale(1.1 1)" font-size="38.5" text-anchor="start" font-weight="normal" fill="#333" stroke="#333" stroke-width="0.9">40</text>
<text transform="translate(2192 409.18) scale(1.1 1)" font-size="38.5" text-anchor="start" font-weight="normal" fill="#333" stroke="#333" stroke-width="0.9">60</text>
<text transform="translate(2192 263.98) scale(1.1 1)" font-size="38.5" text-anchor="start" font-weight="normal" fill="#333" stroke="#333" stroke-width="0.9">80</text>
<text transform="translate(2192 118.78) scale(1.1 1)" font-size="38.5" text-anchor="start" font-weight="normal" fill="#333" stroke="#333" stroke-width="0.9">100</text>
<text transform="translate(283.5 464.25) scale(1.08 1) rotate(-90)" font-size="43.5" text-anchor="middle" font-weight="bold" fill="#1c1c1c">Local Time</text>
<text transform="translate(2283.5 479) scale(1.08 1) rotate(-90)" font-size="42.2" text-anchor="middle" font-weight="normal" fill="#2a2a2a" stroke="#2a2a2a" stroke-width="0.9">Cloud Cover (%)</text>
<path d="M649.5 22H679.5V64H695.5L664.5 95L633.5 64H649.5Z" fill="#74ad4a"/>
<path d="M1396.5 22H1426.5V62H1442.5L1411.5 93L1380.5 62H1396.5Z" fill="#74ad4a"/>
<path d="M1482.5 22H1512.5V62H1528.5L1497.5 93L1466.5 62H1482.5Z" fill="#74ad4a"/>
<path d="M1541 22H1571V62H1587L1556 93L1525 62H1541Z" fill="#74ad4a"/>
<path d="M1702.5 30H1732.5V70H1748.5L1717.5 101L1686.5 70H1702.5Z" fill="#000"/>
<path d="M1870 22H1900V64H1916L1885 95L1854 64H1870Z" fill="#74ad4a"/>
<path d="M595.5 849.5L627 794L658.5 849.5Z" fill="none" stroke="#dc2034" stroke-width="3.6" stroke-linejoin="miter"/>
<path d="M716.7 850.5L749.7 791.5L782.7 850.5Z" fill="#000"/>
<path d="M1133 850.5L1166.5 791.5L1200 850.5Z" fill="#000"/>
<path d="M1194 850.5L1226 790.5L1258 850.5Z" fill="#000"/>
<path d="M1906.5 851L1940 792L1973.5 851Z" fill="#000"/>
<text transform="translate(20 96.5)" font-size="89" text-anchor="start" font-weight="bold" fill="#0c0c0c">a)</text>
</g>
<defs>
<linearGradient id="b1" gradientUnits="userSpaceOnUse" x1="0" y1="1765" x2="0" y2="989.5">
<stop offset="0" stop-color="#adadad"/>
<stop offset="0.0122" stop-color="#b8b8b8"/>
<stop offset="0.0357" stop-color="#cbcbcb"/>
<stop offset="0.0593" stop-color="#f3f3f3"/>
<stop offset="0.0828" stop-color="#ffffff"/>
<stop offset="0.1063" stop-color="#fafafa"/>
<stop offset="0.1298" stop-color="#ffffff"/>
<stop offset="0.1722" stop-color="#ffffff"/>
<stop offset="0.2004" stop-color="#e3e3e3"/>
<stop offset="0.2192" stop-color="#f3f3f3"/>
<stop offset="0.238" stop-color="#d9d9d9"/>
<stop offset="0.2568" stop-color="#f3f3f3"/>
<stop offset="0.2756" stop-color="#ffffff"/>
<stop offset="0.3039" stop-color="#ffffff"/>
<stop offset="0.318" stop-color="#fdfdfd"/>
<stop offset="0.365" stop-color="#fafafa"/>
<stop offset="0.3932" stop-color="#f3f3f3"/>
<stop offset="0.412" stop-color="#adadad"/>
<stop offset="0.4356" stop-color="#737373"/>
<stop offset="0.4591" stop-color="#616161"/>
<stop offset="0.5767" stop-color="#616161"/>
<stop offset="0.6237" stop-color="#525252"/>
<stop offset="0.6707" stop-color="#595959"/>
<stop offset="0.7178" stop-color="#616161"/>
<stop offset="0.746" stop-color="#999999"/>
<stop offset="0.7648" stop-color="#b8b8b8"/>
<stop offset="0.7883" stop-color="#999999"/>
<stop offset="0.8119" stop-color="#737373"/>
<stop offset="0.8354" stop-color="#6b6b6b"/>
<stop offset="0.8824" stop-color="#737373"/>
<stop offset="0.9059" stop-color="#8c8c8c"/>
<stop offset="0.9294" stop-color="#616161"/>
<stop offset="0.9483" stop-color="#212121"/>
<stop offset="1" stop-color="#212121"/>
</linearGradient>
<linearGradient id="b2" gradientUnits="userSpaceOnUse" x1="0" y1="1765" x2="0" y2="989.5">
<stop offset="0" stop-color="#b8b8b8"/>
<stop offset="0.0216" stop-color="#999999"/>
<stop offset="0.0405" stop-color="#7f7f7f"/>
<stop offset="0.0593" stop-color="#adadad"/>
<stop offset="0.0828" stop-color="#ededed"/>
<stop offset="0.1063" stop-color="#c2c2c2"/>
<stop offset="0.1298" stop-color="#e3e3e3"/>
<stop offset="0.1627" stop-color="#fafafa"/>
<stop offset="0.191" stop-color="#b2b2b2"/>
<stop offset="0.2074" stop-color="#ededed"/>
<stop offset="0.2239" stop-color="#c5c5c5"/>
<stop offset="0.2404" stop-color="#999999"/>
<stop offset="0.2545" stop-color="#c5c5c5"/>
<stop offset="0.2662" stop-color="#ffffff"/>
<stop offset="0.3039" stop-color="#ffffff"/>
<stop offset="0.318" stop-color="#fafafa"/>
<stop offset="0.3415" stop-color="#d2d2d2"/>
<stop offset="0.3697" stop-color="#c2c2c2"/>
<stop offset="0.3885" stop-color="#d9d9d9"/>
<stop offset="0.4026" stop-color="#ffffff"/>
<stop offset="0.4214" stop-color="#b2b2b2"/>
<stop offset="0.4356" stop-color="#c2c2c2"/>
<stop offset="0.452" stop-color="#ffffff"/>
<stop offset="0.4638" stop-color="#c2c2c2"/>
<stop offset="0.4826" stop-color="#737373"/>
<stop offset="0.5014" stop-color="#666666"/>
<stop offset="0.5155" stop-color="#9e9e9e"/>
<stop offset="0.5343" stop-color="#ffffff"/>
<stop offset="0.5579" stop-color="#f3f3f3"/>
<stop offset="0.5767" stop-color="#ededed"/>
<stop offset="0.6096" stop-color="#ffffff"/>
<stop offset="0.6331" stop-color="#ededed"/>
<stop offset="0.6496" stop-color="#8c8c8c"/>
<stop offset="0.666" stop-color="#c2c2c2"/>
<stop offset="0.6896" stop-color="#ffffff"/>
<stop offset="0.7178" stop-color="#ededed"/>
<stop offset="0.7366" stop-color="#c2c2c2"/>
<stop offset="0.7648" stop-color="#d2d2d2"/>
<stop offset="0.7836" stop-color="#c5c5c5"/>
<stop offset="0.8024" stop-color="#f3f3f3"/>
<stop offset="0.8354" stop-color="#ffffff"/>
<stop offset="1" stop-color="#ffffff"/>
</linearGradient>
<linearGradient id="b3" gradientUnits="userSpaceOnUse" x1="0" y1="1765" x2="0" y2="989.5">
<stop offset="0" stop-color="#ffffff"/>
<stop offset="0.0405" stop-color="#ffffff"/>
<stop offset="0.0593" stop-color="#d9d9d9"/>
<stop offset="0.0828" stop-color="#b8b8b8"/>
<stop offset="0.1063" stop-color="#9e9e9e"/>
<stop offset="0.1298" stop-color="#858585"/>
<stop offset="0.1533" stop-color="#6b6b6b"/>
<stop offset="0.1863" stop-color="#6b6b6b"/>
<stop offset="0.2051" stop-color="#999999"/>
<stop offset="0.2239" stop-color="#d9d9d9"/>
<stop offset="0.2474" stop-color="#f3f3f3"/>
<stop offset="0.2662" stop-color="#ffffff"/>
<stop offset="0.3039" stop-color="#ffffff"/>
<stop offset="0.318" stop-color="#f3f3f3"/>
<stop offset="0.3321" stop-color="#c2c2c2"/>
<stop offset="0.3509" stop-color="#9e9e9e"/>
<stop offset="0.3885" stop-color="#8c8c8c"/>
<stop offset="0.4356" stop-color="#737373"/>
<stop offset="0.4826" stop-color="#666666"/>
<stop offset="0.5296" stop-color="#6e6e6e"/>
<stop offset="0.7648" stop-color="#707070"/>
<stop offset="0.8119" stop-color="#707070"/>
<stop offset="0.8354" stop-color="#595959"/>
<stop offset="0.8589" stop-color="#404040"/>
<stop offset="0.9059" stop-color="#212121"/>
<stop offset="1" stop-color="#212121"/>
</linearGradient>
<linearGradient id="b4" gradientUnits="userSpaceOnUse" x1="0" y1="1765" x2="0" y2="989.5">
<stop offset="0" stop-color="#ffffff"/>
<stop offset="0.1157" stop-color="#ffffff"/>
<stop offset="0.1533" stop-color="#f3f3f3"/>
<stop offset="0.191" stop-color="#fafafa"/>
<stop offset="0.2239" stop-color="#ffffff"/>
<stop offset="0.7836" stop-color="#ffffff"/>
<stop offset="0.8024" stop-color="#ededed"/>
<stop offset="0.8189" stop-color="#9e9e9e"/>
<stop offset="0.8354" stop-color="#666666"/>
<stop offset="0.8589" stop-color="#404040"/>
<stop offset="0.8824" stop-color="#0e0e0e"/>
<stop offset="1" stop-color="#0b0b0b"/>
</linearGradient>
<linearGradient id="b5" gradientUnits="userSpaceOnUse" x1="0" y1="1765" x2="0" y2="989.5">
<stop offset="0" stop-color="#ffffff"/>
<stop offset="0.0216" stop-color="#ffffff"/>
<stop offset="0.0357" stop-color="#f3f3f3"/>
<stop offset="0.0593" stop-color="#c2c2c2"/>
<stop offset="0.0828" stop-color="#999999"/>
<stop offset="0.1063" stop-color="#737373"/>
<stop offset="0.1298" stop-color="#616161"/>
<stop offset="0.1533" stop-color="#404040"/>
<stop offset="0.2004" stop-color="#2c2c2c"/>
<stop offset="0.3415" stop-color="#212121"/>
<stop offset="0.4826" stop-color="#151515"/>
<stop offset="0.5296" stop-color="#151515"/>
<stop offset="0.5767" stop-color="#2c2c2c"/>
<stop offset="0.6707" stop-color="#383838"/>
<stop offset="0.7648" stop-color="#383838"/>
<stop offset="0.8119" stop-color="#333333"/>
<stop offset="0.8589" stop-color="#151515"/>
<stop offset="0.9059" stop-color="#040404"/>
<stop offset="1" stop-color="#040404"/>
</linearGradient>
<linearGradient id="b6" gradientUnits="userSpaceOnUse" x1="0" y1="1765" x2="0" y2="989.5">
<stop offset="0" stop-color="#666666"/>
<stop offset="0.0593" stop-color="#616161"/>
<stop offset="0.1063" stop-color="#595959"/>
<stop offset="0.1533" stop-color="#404040"/>
<stop offset="0.2004" stop-color="#2c2c2c"/>
<stop offset="0.2944" stop-color="#212121"/>
<stop offset="0.3885" stop-color="#121212"/>
<stop offset="0.4826" stop-color="#070707"/>
<stop offset="0.5484" stop-color="#040404"/>
<stop offset="0.5555" stop-color="#0e0e0e"/>
<stop offset="0.5649" stop-color="#999999"/>
<stop offset="0.5767" stop-color="#f3f3f3"/>
<stop offset="0.5955" stop-color="#9e9e9e"/>
<stop offset="0.619" stop-color="#adadad"/>
<stop offset="0.6378" stop-color="#c2c2c2"/>
<stop offset="0.6519" stop-color="#999999"/>
<stop offset="0.6707" stop-color="#474747"/>
<stop offset="0.6896" stop-color="#999999"/>
<stop offset="0.7084" stop-color="#c2c2c2"/>
<stop offset="0.7366" stop-color="#f3f3f3"/>
<stop offset="0.7601" stop-color="#ffffff"/>
<stop offset="0.7836" stop-color="#ededed"/>
<stop offset="0.8024" stop-color="#ffffff"/>
<stop offset="0.8166" stop-color="#ededed"/>
<stop offset="0.8307" stop-color="#999999"/>
<stop offset="0.8448" stop-color="#666666"/>
<stop offset="0.8683" stop-color="#404040"/>
<stop offset="0.9059" stop-color="#0b0b0b"/>
<stop offset="1" stop-color="#0b0b0b"/>
</linearGradient>
<linearGradient id="b7" gradientUnits="userSpaceOnUse" x1="0" y1="1765" x2="0" y2="989.5">
<stop offset="0" stop-color="#616161"/>
<stop offset="0.0546" stop-color="#6b6b6b"/>
<stop offset="0.0757" stop-color="#858585"/>
<stop offset="0.0969" stop-color="#b8b8b8"/>
<stop offset="0.1204" stop-color="#858585"/>
<stop offset="0.1533" stop-color="#474747"/>
<stop offset="0.2004" stop-color="#383838"/>
<stop offset="0.4826" stop-color="#383838"/>
<stop offset="0.5061" stop-color="#333333"/>
<stop offset="0.5296" stop-color="#2c2c2c"/>
<stop offset="0.5532" stop-color="#3d3d3d"/>
<stop offset="0.5767" stop-color="#1d1d1d"/>
<stop offset="0.8119" stop-color="#1d1d1d"/>
<stop offset="0.8589" stop-color="#0b0b0b"/>
<stop offset="1" stop-color="#0b0b0b"/>
</linearGradient>
<linearGradient id="b8" gradientUnits="userSpaceOnUse" x1="0" y1="1765" x2="0" y2="989.5">
<stop offset="0" stop-color="#ffffff"/>
<stop offset="0.4685" stop-color="#ffffff"/>
<stop offset="0.4826" stop-color="#ffffff"/>
<stop offset="0.4967" stop-color="#d2d2d2"/>
<stop offset="0.5108" stop-color="#7f7f7f"/>
<stop offset="0.5249" stop-color="#474747"/>
<stop offset="0.5484" stop-color="#212121"/>
<stop offset="0.5673" stop-color="#2c2c2c"/>
<stop offset="0.5814" stop-color="#616161"/>
<stop offset="0.5955" stop-color="#999999"/>
<stop offset="0.6096" stop-color="#c2c2c2"/>
<stop offset="0.6237" stop-color="#fafafa"/>
<stop offset="0.6425" stop-color="#d9d9d9"/>
<stop offset="0.6613" stop-color="#ededed"/>
<stop offset="0.6943" stop-color="#ffffff"/>
<stop offset="0.7178" stop-color="#fafafa"/>
<stop offset="0.7366" stop-color="#ffffff"/>
<stop offset="0.8119" stop-color="#ffffff"/>
<stop offset="0.8495" stop-color="#ededed"/>
<stop offset="0.8612" stop-color="#9e9e9e"/>
<stop offset="0.873" stop-color="#666666"/>
<stop offset="0.8871" stop-color="#404040"/>
<stop offset="0.9059" stop-color="#0b0b0b"/>
<stop offset="1" stop-color="#0b0b0b"/>
</linearGradient>
<linearGradient id="b9" gradientUnits="userSpaceOnUse" x1="0" y1="1765" x2="0" y2="989.5">
<stop offset="0" stop-color="#2c2c2c"/>
<stop offset="0.0593" stop-color="#2c2c2c"/>
<stop offset="0.1063" stop-color="#212121"/>
<stop offset="0.1533" stop-color="#1d1d1d"/>
<stop offset="0.4826" stop-color="#151515"/>
<stop offset="0.5767" stop-color="#070707"/>
<stop offset="0.8589" stop-color="#060606"/>
<stop offset="0.8824" stop-color="#0b0b0b"/>
<stop offset="1" stop-color="#0e0e0e"/>
</linearGradient>
<linearGradient id="b10" gradientUnits="userSpaceOnUse" x1="0" y1="1765" x2="0" y2="989.5">
<stop offset="0" stop-color="#ffffff"/>
<stop offset="0.0075" stop-color="#fdfdfd"/>
<stop offset="0.0216" stop-color="#d9d9d9"/>
<stop offset="0.0357" stop-color="#999999"/>
<stop offset="0.0499" stop-color="#666666"/>
<stop offset="0.0687" stop-color="#474747"/>
<stop offset="0.1063" stop-color="#383838"/>
<stop offset="0.2004" stop-color="#1d1d1d"/>
<stop offset="0.4826" stop-color="#121212"/>
<stop offset="0.5767" stop-color="#060606"/>
<stop offset="0.8589" stop-color="#040404"/>
<stop offset="0.8801" stop-color="#2c2c2c"/>
<stop offset="0.8965" stop-color="#0b0b0b"/>
<stop offset="0.9153" stop-color="#0b0b0b"/>
<stop offset="0.9389" stop-color="#212121"/>
<stop offset="0.953" stop-color="#666666"/>
<stop offset="0.9671" stop-color="#999999"/>
<stop offset="0.9812" stop-color="#ededed"/>
<stop offset="1" stop-color="#ffffff"/>
</linearGradient>
<linearGradient id="b11" gradientUnits="userSpaceOnUse" x1="0" y1="1765" x2="0" y2="989.5">
<stop offset="0" stop-color="#4c4c4c"/>
<stop offset="0.0828" stop-color="#4c4c4c"/>
<stop offset="0.1298" stop-color="#474747"/>
<stop offset="0.1533" stop-color="#383838"/>
<stop offset="0.2004" stop-color="#383838"/>
<stop offset="0.2239" stop-color="#1d1d1d"/>
<stop offset="0.4356" stop-color="#121212"/>
<stop offset="0.5296" stop-color="#060606"/>
<stop offset="0.6943" stop-color="#040404"/>
<stop offset="0.7178" stop-color="#151515"/>
<stop offset="1" stop-color="#151515"/>
</linearGradient>
<linearGradient id="b12" gradientUnits="userSpaceOnUse" x1="0" y1="1765" x2="0" y2="989.5">
<stop offset="0" stop-color="#616161"/>
<stop offset="0.0122" stop-color="#737373"/>
<stop offset="0.0263" stop-color="#999999"/>
<stop offset="0.0405" stop-color="#d9d9d9"/>
<stop offset="0.0593" stop-color="#fafafa"/>
<stop offset="0.0828" stop-color="#d9d9d9"/>
<stop offset="0.0969" stop-color="#9e9e9e"/>
<stop offset="0.1157" stop-color="#7f7f7f"/>
<stop offset="0.1392" stop-color="#616161"/>
<stop offset="0.1769" stop-color="#151515"/>
<stop offset="0.2474" stop-color="#0e0e0e"/>
<stop offset="0.2944" stop-color="#040404"/>
<stop offset="0.6896" stop-color="#070707"/>
<stop offset="0.7037" stop-color="#404040"/>
<stop offset="0.7178" stop-color="#7f7f7f"/>
<stop offset="0.7319" stop-color="#616161"/>
<stop offset="0.746" stop-color="#737373"/>
<stop offset="0.7601" stop-color="#9e9e9e"/>
<stop offset="0.7742" stop-color="#c5c5c5"/>
<stop offset="0.7883" stop-color="#adadad"/>
<stop offset="0.8024" stop-color="#8c8c8c"/>
<stop offset="0.8213" stop-color="#616161"/>
<stop offset="0.8448" stop-color="#404040"/>
<stop offset="0.8824" stop-color="#383838"/>
<stop offset="0.9059" stop-color="#474747"/>
<stop offset="0.9271" stop-color="#6b6b6b"/>
<stop offset="0.9436" stop-color="#474747"/>
<stop offset="0.9624" stop-color="#151515"/>
<stop offset="1" stop-color="#151515"/>
</linearGradient>
<linearGradient id="b13" gradientUnits="userSpaceOnUse" x1="0" y1="1765" x2="0" y2="989.5">
<stop offset="0" stop-color="#474747"/>
<stop offset="0.0593" stop-color="#595959"/>
<stop offset="0.1063" stop-color="#666666"/>
<stop offset="0.1204" stop-color="#737373"/>
<stop offset="0.1345" stop-color="#999999"/>
<stop offset="0.1533" stop-color="#c2c2c2"/>
<stop offset="0.1722" stop-color="#f3f3f3"/>
<stop offset="0.2004" stop-color="#ffffff"/>
<stop offset="0.2286" stop-color="#ededed"/>
<stop offset="0.2474" stop-color="#999999"/>
<stop offset="0.2662" stop-color="#616161"/>
<stop offset="0.2944" stop-color="#212121"/>
<stop offset="0.318" stop-color="#040404"/>
<stop offset="0.6943" stop-color="#040404"/>
<stop offset="0.7178" stop-color="#070707"/>
<stop offset="0.8777" stop-color="#070707"/>
<stop offset="0.8918" stop-color="#212121"/>
<stop offset="0.953" stop-color="#212121"/>
<stop offset="1" stop-color="#151515"/>
</linearGradient>
<linearGradient id="b14" gradientUnits="userSpaceOnUse" x1="0" y1="1765" x2="0" y2="989.5">
<stop offset="0" stop-color="#0b0b0b"/>
<stop offset="0.2474" stop-color="#151515"/>
<stop offset="0.2662" stop-color="#383838"/>
<stop offset="0.2944" stop-color="#333333"/>
<stop offset="0.318" stop-color="#0b0b0b"/>
<stop offset="0.8824" stop-color="#0e0e0e"/>
<stop offset="0.9059" stop-color="#2c2c2c"/>
<stop offset="0.953" stop-color="#404040"/>
<stop offset="1" stop-color="#404040"/>
</linearGradient>
<linearGradient id="b15" gradientUnits="userSpaceOnUse" x1="0" y1="1765" x2="0" y2="989.5">
<stop offset="0" stop-color="#ffffff"/>
<stop offset="0.412" stop-color="#ffffff"/>
<stop offset="0.4356" stop-color="#f3f3f3"/>
<stop offset="0.452" stop-color="#adadad"/>
<stop offset="0.4732" stop-color="#ededed"/>
<stop offset="0.492" stop-color="#ffffff"/>
<stop offset="0.5296" stop-color="#ffffff"/>
<stop offset="0.5532" stop-color="#f3f3f3"/>
<stop offset="0.572" stop-color="#c2c2c2"/>
<stop offset="0.5908" stop-color="#9e9e9e"/>
<stop offset="0.6096" stop-color="#737373"/>
<stop offset="0.6284" stop-color="#666666"/>
<stop offset="0.6472" stop-color="#999999"/>
<stop offset="0.6613" stop-color="#c2c2c2"/>
<stop offset="0.6754" stop-color="#e3e3e3"/>
<stop offset="0.6943" stop-color="#c2c2c2"/>
<stop offset="0.7084" stop-color="#9e9e9e"/>
<stop offset="0.7272" stop-color="#858585"/>
<stop offset="0.7648" stop-color="#7a7a7a"/>
<stop offset="0.8024" stop-color="#7a7a7a"/>
<stop offset="0.8236" stop-color="#9e9e9e"/>
<stop offset="0.8354" stop-color="#ededed"/>
<stop offset="0.8589" stop-color="#ffffff"/>
<stop offset="1" stop-color="#ffffff"/>
</linearGradient>
<linearGradient id="b16" gradientUnits="userSpaceOnUse" x1="0" y1="1765" x2="0" y2="989.5">
<stop offset="0" stop-color="#9e9e9e"/>
<stop offset="0.0122" stop-color="#adadad"/>
<stop offset="0.0357" stop-color="#c2c2c2"/>
<stop offset="0.0593" stop-color="#d9d9d9"/>
<stop offset="0.0828" stop-color="#f3f3f3"/>
<stop offset="0.1063" stop-color="#ffffff"/>
<stop offset="0.2944" stop-color="#ffffff"/>
<stop offset="0.318" stop-color="#ffffff"/>
<stop offset="0.4826" stop-color="#ffffff"/>
<stop offset="0.5061" stop-color="#f3f3f3"/>
<stop offset="0.5226" stop-color="#999999"/>
<stop offset="0.5484" stop-color="#ffffff"/>
<stop offset="0.5767" stop-color="#ffffff"/>
<stop offset="0.6002" stop-color="#f3f3f3"/>
<stop offset="0.619" stop-color="#8c8c8c"/>
<stop offset="0.6378" stop-color="#c2c2c2"/>
<stop offset="0.6519" stop-color="#fafafa"/>
<stop offset="0.6707" stop-color="#f3f3f3"/>
<stop offset="0.6896" stop-color="#e3e3e3"/>
<stop offset="0.7084" stop-color="#c2c2c2"/>
<stop offset="0.7272" stop-color="#999999"/>
<stop offset="0.746" stop-color="#7f7f7f"/>
<stop offset="0.7648" stop-color="#666666"/>
<stop offset="0.7883" stop-color="#404040"/>
<stop offset="0.8119" stop-color="#151515"/>
<stop offset="0.8824" stop-color="#151515"/>
<stop offset="0.9059" stop-color="#2c2c2c"/>
<stop offset="0.953" stop-color="#242424"/>
<stop offset="1" stop-color="#212121"/>
</linearGradient>
<linearGradient id="b17" gradientUnits="userSpaceOnUse" x1="0" y1="1765" x2="0" y2="989.5">
<stop offset="0" stop-color="#737373"/>
<stop offset="0.0263" stop-color="#9e9e9e"/>
<stop offset="0.0405" stop-color="#c2c2c2"/>
<stop offset="0.0546" stop-color="#adadad"/>
<stop offset="0.071" stop-color="#858585"/>
<stop offset="0.0875" stop-color="#9e9e9e"/>
<stop offset="0.1063" stop-color="#c2c2c2"/>
<stop offset="0.1298" stop-color="#f3f3f3"/>
<stop offset="0.1533" stop-color="#f3f3f3"/>
<stop offset="0.1769" stop-color="#ededed"/>
<stop offset="0.2004" stop-color="#999999"/>
<stop offset="0.2145" stop-color="#7a7a7a"/>
<stop offset="0.2239" stop-color="#9e9e9e"/>
<stop offset="0.2474" stop-color="#e6e6e6"/>
<stop offset="0.2662" stop-color="#c2c2c2"/>
<stop offset="0.285" stop-color="#f3f3f3"/>
<stop offset="0.3015" stop-color="#cbcbcb"/>
<stop offset="0.318" stop-color="#ffffff"/>
<stop offset="0.5767" stop-color="#ffffff"/>
<stop offset="0.6049" stop-color="#f3f3f3"/>
<stop offset="0.619" stop-color="#b2b2b2"/>
<stop offset="0.6331" stop-color="#f3f3f3"/>
<stop offset="0.6472" stop-color="#ffffff"/>
<stop offset="0.7178" stop-color="#ffffff"/>
<stop offset="0.746" stop-color="#ffffff"/>
<stop offset="0.7601" stop-color="#999999"/>
<stop offset="0.7742" stop-color="#666666"/>
<stop offset="0.7883" stop-color="#404040"/>
<stop offset="0.8119" stop-color="#151515"/>
<stop offset="0.8589" stop-color="#070707"/>
<stop offset="0.9059" stop-color="#212121"/>
<stop offset="0.9294" stop-color="#474747"/>
<stop offset="0.953" stop-color="#474747"/>
<stop offset="0.9718" stop-color="#151515"/>
<stop offset="1" stop-color="#151515"/>
</linearGradient>
<linearGradient id="b18" gradientUnits="userSpaceOnUse" x1="0" y1="1765" x2="0" y2="989.5">
<stop offset="0" stop-color="#383838"/>
<stop offset="0.1533" stop-color="#212121"/>
<stop offset="0.2004" stop-color="#0e0e0e"/>
<stop offset="0.2944" stop-color="#0e0e0e"/>
<stop offset="0.318" stop-color="#040404"/>
<stop offset="0.6237" stop-color="#040404"/>
<stop offset="0.6331" stop-color="#151515"/>
<stop offset="1" stop-color="#151515"/>
</linearGradient>
<linearGradient id="b19" gradientUnits="userSpaceOnUse" x1="0" y1="1765" x2="0" y2="989.5">
<stop offset="0" stop-color="#040404"/>
<stop offset="0.6369" stop-color="#070707"/>
<stop offset="0.6472" stop-color="#b2b2b2"/>
<stop offset="0.6613" stop-color="#fafafa"/>
<stop offset="0.7084" stop-color="#fafafa"/>
<stop offset="0.7319" stop-color="#cbcbcb"/>
<stop offset="0.7531" stop-color="#999999"/>
<stop offset="0.7695" stop-color="#c2c2c2"/>
<stop offset="0.7883" stop-color="#ffffff"/>
<stop offset="0.8589" stop-color="#ffffff"/>
<stop offset="0.8824" stop-color="#fafafa"/>
<stop offset="0.9059" stop-color="#ffffff"/>
<stop offset="0.9718" stop-color="#fafafa"/>
<stop offset="1" stop-color="#d2d2d2"/>
</linearGradient>
<linearGradient id="b20" gradientUnits="userSpaceOnUse" x1="0" y1="1765" x2="0" y2="989.5">
<stop offset="0" stop-color="#525252"/>
<stop offset="0.1063" stop-color="#525252"/>
<stop offset="0.1533" stop-color="#474747"/>
<stop offset="0.2474" stop-color="#383838"/>
<stop offset="0.2944" stop-color="#212121"/>
<stop offset="0.3415" stop-color="#080808"/>
<stop offset="0.6425" stop-color="#0d0d0d"/>
<stop offset="0.8589" stop-color="#0d0d0d"/>
<stop offset="0.8824" stop-color="#191919"/>
<stop offset="1" stop-color="#191919"/>
</linearGradient>
<linearGradient id="b21" gradientUnits="userSpaceOnUse" x1="0" y1="1765" x2="0" y2="989.5">
<stop offset="0" stop-color="#333333"/>
<stop offset="0.1533" stop-color="#282828"/>
<stop offset="0.2944" stop-color="#191919"/>
<stop offset="0.3415" stop-color="#0e0e0e"/>
<stop offset="0.5767" stop-color="#151515"/>
<stop offset="1" stop-color="#151515"/>
</linearGradient>
<linearGradient id="b22" gradientUnits="userSpaceOnUse" x1="0" y1="1765" x2="0" y2="989.5">
<stop offset="0" stop-color="#666666"/>
<stop offset="0.0593" stop-color="#737373"/>
<stop offset="0.1063" stop-color="#6b6b6b"/>
<stop offset="0.1533" stop-color="#616161"/>
<stop offset="0.2004" stop-color="#545454"/>
<stop offset="0.2474" stop-color="#4c4c4c"/>
<stop offset="0.318" stop-color="#474747"/>
<stop offset="0.3462" stop-color="#616161"/>
<stop offset="0.365" stop-color="#7f7f7f"/>
<stop offset="0.3791" stop-color="#9e9e9e"/>
<stop offset="0.3932" stop-color="#7f7f7f"/>
<stop offset="0.412" stop-color="#616161"/>
<stop offset="0.4356" stop-color="#404040"/>
<stop offset="0.4826" stop-color="#282828"/>
<stop offset="0.5296" stop-color="#212121"/>
<stop offset="0.8589" stop-color="#212121"/>
<stop offset="0.8824" stop-color="#1d1d1d"/>
<stop offset="1" stop-color="#1d1d1d"/>
</linearGradient>
<linearGradient id="b23" gradientUnits="userSpaceOnUse" x1="0" y1="1765" x2="0" y2="989.5">
<stop offset="0" stop-color="#ffffff"/>
<stop offset="0.0169" stop-color="#f3f3f3"/>
<stop offset="0.031" stop-color="#c2c2c2"/>
<stop offset="0.0452" stop-color="#9e9e9e"/>
<stop offset="0.0593" stop-color="#8c8c8c"/>
<stop offset="0.0828" stop-color="#7f7f7f"/>
<stop offset="0.1063" stop-color="#7a7a7a"/>
<stop offset="0.1533" stop-color="#666666"/>
<stop offset="0.2004" stop-color="#616161"/>
<stop offset="0.2474" stop-color="#4c4c4c"/>
<stop offset="0.2944" stop-color="#383838"/>
<stop offset="0.4356" stop-color="#383838"/>
<stop offset="0.4826" stop-color="#0e0e0e"/>
<stop offset="1" stop-color="#0e0e0e"/>
</linearGradient>
<linearGradient id="b24" gradientUnits="userSpaceOnUse" x1="0" y1="1765" x2="0" y2="989.5">
<stop offset="0" stop-color="#ffffff"/>
<stop offset="1" stop-color="#ffffff"/>
</linearGradient>
<linearGradient id="b25" gradientUnits="userSpaceOnUse" x1="0" y1="1765" x2="0" y2="989.5">
<stop offset="0" stop-color="#adadad"/>
<stop offset="0.0593" stop-color="#b2b2b2"/>
<stop offset="0.0828" stop-color="#c5c5c5"/>
<stop offset="0.1063" stop-color="#fafafa"/>
<stop offset="0.1298" stop-color="#dfdfdf"/>
<stop offset="0.1533" stop-color="#ffffff"/>
<stop offset="0.412" stop-color="#ffffff"/>
<stop offset="0.4262" stop-color="#f3f3f3"/>
<stop offset="0.445" stop-color="#c2c2c2"/>
<stop offset="0.4591" stop-color="#999999"/>
<stop offset="0.4826" stop-color="#616161"/>
<stop offset="0.5061" stop-color="#2c2c2c"/>
<stop offset="0.5532" stop-color="#242424"/>
<stop offset="0.572" stop-color="#666666"/>
<stop offset="0.5908" stop-color="#7f7f7f"/>
<stop offset="0.6096" stop-color="#666666"/>
<stop offset="0.6331" stop-color="#383838"/>
<stop offset="0.6707" stop-color="#080808"/>
<stop offset="0.7178" stop-color="#2c2c2c"/>
<stop offset="0.7554" stop-color="#666666"/>
<stop offset="0.7742" stop-color="#999999"/>
<stop offset="0.793" stop-color="#c5c5c5"/>
<stop offset="0.8119" stop-color="#ffffff"/>
<stop offset="0.8448" stop-color="#ffffff"/>
<stop offset="0.8636" stop-color="#f3f3f3"/>
<stop offset="0.8824" stop-color="#a8a8a8"/>
<stop offset="0.9059" stop-color="#949494"/>
<stop offset="0.9294" stop-color="#8f8f8f"/>
<stop offset="0.953" stop-color="#9e9e9e"/>
<stop offset="0.9718" stop-color="#cbcbcb"/>
<stop offset="1" stop-color="#d2d2d2"/>
</linearGradient>
<linearGradient id="b26" gradientUnits="userSpaceOnUse" x1="0" y1="1765" x2="0" y2="989.5">
<stop offset="0" stop-color="#040404"/>
<stop offset="0.7178" stop-color="#040404"/>
<stop offset="0.7648" stop-color="#070707"/>
<stop offset="1" stop-color="#070707"/>
</linearGradient>
<linearGradient id="b27" gradientUnits="userSpaceOnUse" x1="0" y1="1765" x2="0" y2="989.5">
<stop offset="0" stop-color="#040404"/>
<stop offset="1" stop-color="#040404"/>
</linearGradient>
<linearGradient id="b28" gradientUnits="userSpaceOnUse" x1="0" y1="1765" x2="0" y2="989.5">
<stop offset="0" stop-color="#0b0b0b"/>
<stop offset="0.2944" stop-color="#0b0b0b"/>
<stop offset="0.3885" stop-color="#080808"/>
<stop offset="0.4826" stop-color="#070707"/>
<stop offset="0.5061" stop-color="#242424"/>
<stop offset="0.5249" stop-color="#0e0e0e"/>
<stop offset="0.5437" stop-color="#212121"/>
<stop offset="0.5767" stop-color="#0b0b0b"/>
<stop offset="0.6002" stop-color="#040404"/>
<stop offset="1" stop-color="#040404"/>
</linearGradient>
<linearGradient id="b29" gradientUnits="userSpaceOnUse" x1="0" y1="1765" x2="0" y2="989.5">
<stop offset="0" stop-color="#3d3d3d"/>
<stop offset="0.0593" stop-color="#424242"/>
<stop offset="0.1063" stop-color="#424242"/>
<stop offset="0.1533" stop-color="#3d3d3d"/>
<stop offset="0.1769" stop-color="#2c2c2c"/>
<stop offset="0.2004" stop-color="#242424"/>
<stop offset="0.2239" stop-color="#333333"/>
<stop offset="0.2474" stop-color="#212121"/>
<stop offset="0.2709" stop-color="#0b0b0b"/>
<stop offset="0.2944" stop-color="#040404"/>
<stop offset="0.7648" stop-color="#040404"/>
<stop offset="0.7883" stop-color="#0b0b0b"/>
<stop offset="1" stop-color="#0b0b0b"/>
</linearGradient>
<linearGradient id="b30" gradientUnits="userSpaceOnUse" x1="0" y1="1765" x2="0" y2="989.5">
<stop offset="0" stop-color="#666666"/>
<stop offset="0.0122" stop-color="#737373"/>
<stop offset="0.031" stop-color="#999999"/>
<stop offset="0.0452" stop-color="#c5c5c5"/>
<stop offset="0.0546" stop-color="#d2d2d2"/>
<stop offset="0.0687" stop-color="#9e9e9e"/>
<stop offset="0.0828" stop-color="#b8b8b8"/>
<stop offset="0.1016" stop-color="#d9d9d9"/>
<stop offset="0.1157" stop-color="#b8b8b8"/>
<stop offset="0.1298" stop-color="#999999"/>
<stop offset="0.1486" stop-color="#7f7f7f"/>
<stop offset="0.1627" stop-color="#9e9e9e"/>
<stop offset="0.1769" stop-color="#737373"/>
<stop offset="0.191" stop-color="#2c2c2c"/>
<stop offset="0.2098" stop-color="#212121"/>
<stop offset="0.2286" stop-color="#616161"/>
<stop offset="0.2474" stop-color="#666666"/>
<stop offset="0.2662" stop-color="#404040"/>
<stop offset="0.2944" stop-color="#151515"/>
<stop offset="0.318" stop-color="#070707"/>
<stop offset="0.7648" stop-color="#070707"/>
<stop offset="0.7977" stop-color="#151515"/>
<stop offset="0.8119" stop-color="#404040"/>
<stop offset="0.8213" stop-color="#383838"/>
<stop offset="0.8401" stop-color="#2c2c2c"/>
<stop offset="0.8589" stop-color="#595959"/>
<stop offset="0.873" stop-color="#7f7f7f"/>
<stop offset="0.8871" stop-color="#adadad"/>
<stop offset="0.9059" stop-color="#ededed"/>
<stop offset="0.9294" stop-color="#ffffff"/>
<stop offset="0.9812" stop-color="#ffffff"/>
<stop offset="1" stop-color="#ededed"/>
</linearGradient>
<linearGradient id="b31" gradientUnits="userSpaceOnUse" x1="0" y1="1765" x2="0" y2="989.5">
<stop offset="0" stop-color="#595959"/>
<stop offset="0.0593" stop-color="#616161"/>
<stop offset="0.1063" stop-color="#666666"/>
<stop offset="0.2474" stop-color="#666666"/>
<stop offset="0.2662" stop-color="#616161"/>
<stop offset="0.2944" stop-color="#2c2c2c"/>
<stop offset="0.318" stop-color="#404040"/>
<stop offset="0.3368" stop-color="#7a7a7a"/>
<stop offset="0.3556" stop-color="#404040"/>
<stop offset="0.3697" stop-color="#858585"/>
<stop offset="0.3838" stop-color="#c2c2c2"/>
<stop offset="0.3979" stop-color="#ffffff"/>
<stop offset="0.4591" stop-color="#ffffff"/>
<stop offset="0.4826" stop-color="#ededed"/>
<stop offset="0.492" stop-color="#999999"/>
<stop offset="0.5061" stop-color="#0e0e0e"/>
<stop offset="1" stop-color="#0e0e0e"/>
</linearGradient>
<linearGradient id="bsaw1" gradientUnits="userSpaceOnUse" x1="440.3" y1="0" x2="551.45" y2="0" spreadMethod="repeat"><stop offset="0" stop-color="#fff" stop-opacity="0"/><stop offset="0.5" stop-color="#fff" stop-opacity="1"/><stop offset="0.5" stop-color="#fff" stop-opacity="0"/><stop offset="1" stop-color="#fff" stop-opacity="0"/></linearGradient>
<mask id="bm1" maskUnits="userSpaceOnUse" x="435.3" y="989.5" width="1677.2" height="775.5" style="mask-type:alpha"><rect x="435.3" y="989.5" width="1677.2" height="775.5" fill="url(#bsaw1)"/></mask>
<linearGradient id="bsaw2" gradientUnits="userSpaceOnUse" x1="495.87" y1="0" x2="607.02" y2="0" spreadMethod="repeat"><stop offset="0" stop-color="#fff" stop-opacity="0"/><stop offset="0.5" stop-color="#fff" stop-opacity="1"/><stop offset="0.5" stop-color="#fff" stop-opacity="0"/><stop offset="1" stop-color="#fff" stop-opacity="0"/></linearGradient>
<mask id="bm2" maskUnits="userSpaceOnUse" x="435.3" y="989.5" width="1677.2" height="775.5" style="mask-type:alpha"><rect x="435.3" y="989.5" width="1677.2" height="775.5" fill="url(#bsaw2)"/></mask>
<clipPath id="bc"><rect x="440.3" y="989.5" width="1667.2" height="775.5"/></clipPath>
</defs>
<g clip-path="url(#bc)"><g filter="url(#jetb)">
<rect x="420.3" y="969.5" width="1707.2" height="815.5" fill="#000"/>
<rect x="438.8" y="989.5" width="57.07" height="775.5" fill="url(#b1)"/>
<rect x="494.37" y="989.5" width="57.07" height="775.5" fill="url(#b2)"/>
<rect x="549.95" y="989.5" width="57.07" height="775.5" fill="url(#b3)"/>
<rect x="605.52" y="989.5" width="57.07" height="775.5" fill="url(#b4)"/>
<rect x="661.09" y="989.5" width="57.07" height="775.5" fill="url(#b5)"/>
<rect x="716.67" y="989.5" width="57.07" height="775.5" fill="url(#b6)"/>
<rect x="772.24" y="989.5" width="57.07" height="775.5" fill="url(#b7)"/>
<rect x="827.81" y="989.5" width="57.07" height="775.5" fill="url(#b8)"/>
<rect x="883.39" y="989.5" width="57.07" height="775.5" fill="url(#b9)"/>
<rect x="938.96" y="989.5" width="57.07" height="775.5" fill="url(#b10)"/>
<rect x="994.53" y="989.5" width="57.07" height="775.5" fill="url(#b11)"/>
<rect x="1050.11" y="989.5" width="57.07" height="775.5" fill="url(#b12)"/>
<rect x="1105.68" y="989.5" width="57.07" height="775.5" fill="url(#b13)"/>
<rect x="1161.25" y="989.5" width="57.07" height="775.5" fill="url(#b14)"/>
<rect x="1216.83" y="989.5" width="57.07" height="775.5" fill="url(#b15)"/>
<rect x="1272.4" y="989.5" width="57.07" height="775.5" fill="url(#b16)"/>
<rect x="1327.97" y="989.5" width="57.07" height="775.5" fill="url(#b17)"/>
<rect x="1383.55" y="989.5" width="57.07" height="775.5" fill="url(#b18)"/>
<rect x="1439.12" y="989.5" width="57.07" height="775.5" fill="url(#b19)"/>
<rect x="1494.69" y="989.5" width="57.07" height="775.5" fill="url(#b20)"/>
<rect x="1550.27" y="989.5" width="57.07" height="775.5" fill="url(#b21)"/>
<rect x="1605.84" y="989.5" width="57.07" height="775.5" fill="url(#b22)"/>
<rect x="1661.41" y="989.5" width="57.07" height="775.5" fill="url(#b23)"/>
<rect x="1716.99" y="989.5" width="57.07" height="775.5" fill="url(#b24)"/>
<rect x="1772.56" y="989.5" width="57.07" height="775.5" fill="url(#b25)"/>
<rect x="1828.13" y="989.5" width="57.07" height="775.5" fill="url(#b26)"/>
<rect x="1883.71" y="989.5" width="57.07" height="775.5" fill="url(#b27)"/>
<rect x="1939.28" y="989.5" width="57.07" height="775.5" fill="url(#b28)"/>
<rect x="1994.85" y="989.5" width="57.07" height="775.5" fill="url(#b29)"/>
<rect x="2050.43" y="989.5" width="57.07" height="775.5" fill="url(#b30)"/>
<g mask="url(#bm1)">
<rect x="440.3" y="989.5" width="57.07" height="775.5" fill="url(#b2)"/>
<rect x="551.45" y="989.5" width="57.07" height="775.5" fill="url(#b4)"/>
<rect x="662.59" y="989.5" width="57.07" height="775.5" fill="url(#b6)"/>
<rect x="773.74" y="989.5" width="57.07" height="775.5" fill="url(#b8)"/>
<rect x="884.89" y="989.5" width="57.07" height="775.5" fill="url(#b10)"/>
<rect x="996.03" y="989.5" width="57.07" height="775.5" fill="url(#b12)"/>
<rect x="1107.18" y="989.5" width="57.07" height="775.5" fill="url(#b14)"/>
<rect x="1218.33" y="989.5" width="57.07" height="775.5" fill="url(#b16)"/>
<rect x="1329.47" y="989.5" width="57.07" height="775.5" fill="url(#b18)"/>
<rect x="1440.62" y="989.5" width="57.07" height="775.5" fill="url(#b20)"/>
<rect x="1551.77" y="989.5" width="57.07" height="775.5" fill="url(#b22)"/>
<rect x="1662.91" y="989.5" width="57.07" height="775.5" fill="url(#b24)"/>
<rect x="1774.06" y="989.5" width="57.07" height="775.5" fill="url(#b26)"/>
<rect x="1885.21" y="989.5" width="57.07" height="775.5" fill="url(#b28)"/>
<rect x="1996.35" y="989.5" width="57.07" height="775.5" fill="url(#b30)"/>
</g>
<g mask="url(#bm2)">
<rect x="495.87" y="989.5" width="57.07" height="775.5" fill="url(#b3)"/>
<rect x="607.02" y="989.5" width="57.07" height="775.5" fill="url(#b5)"/>
<rect x="718.17" y="989.5" width="57.07" height="775.5" fill="url(#b7)"/>
<rect x="829.31" y="989.5" width="57.07" height="775.5" fill="url(#b9)"/>
<rect x="940.46" y="989.5" width="57.07" height="775.5" fill="url(#b11)"/>
<rect x="1051.61" y="989.5" width="57.07" height="775.5" fill="url(#b13)"/>
<rect x="1162.75" y="989.5" width="57.07" height="775.5" fill="url(#b15)"/>
<rect x="1273.9" y="989.5" width="57.07" height="775.5" fill="url(#b17)"/>
<rect x="1385.05" y="989.5" width="57.07" height="775.5" fill="url(#b19)"/>
<rect x="1496.19" y="989.5" width="57.07" height="775.5" fill="url(#b21)"/>
<rect x="1607.34" y="989.5" width="57.07" height="775.5" fill="url(#b23)"/>
<rect x="1718.49" y="989.5" width="57.07" height="775.5" fill="url(#b25)"/>
<rect x="1829.63" y="989.5" width="57.07" height="775.5" fill="url(#b27)"/>
<rect x="1940.78" y="989.5" width="57.07" height="775.5" fill="url(#b29)"/>
<rect x="2051.93" y="989.5" width="57.07" height="775.5" fill="url(#b31)"/>
</g>
</g></g>
<g filter="url(#soft)">
<path d="M439.3 989H2108V1765.5H439.3Z" fill="none" stroke="#161616" stroke-width="4.4"/>
<path d="M439.3 1765h-16M2108.5 1765h16M439.3 1654.21h-16M2108.5 1654.21h16M439.3 1543.43h-16M2108.5 1543.43h16M439.3 1432.64h-16M2108.5 1432.64h16M439.3 1321.86h-16M2108.5 1321.86h16M439.3 1211.07h-16M2108.5 1211.07h16M439.3 1100.29h-16M2108.5 1100.29h16M439.3 989.5h-16M2108.5 989.5h16M662.59 1765v14M662.59 989.5v-14M940.46 1765v14M940.46 989.5v-14M1218.33 1765v14M1218.33 989.5v-14M1496.19 1765v14M1496.19 989.5v-14M1774.06 1765v14M1774.06 989.5v-14M2051.93 1765v14M2051.93 989.5v-14" stroke="#262626" stroke-width="3.6" fill="none"/>
<rect x="2157" y="990.5" width="30.5" height="778.5" fill="url(#cbj)"/>
<rect x="2157" y="990.5" width="30.5" height="778.5" fill="none" stroke="#555" stroke-opacity="0.75" stroke-width="4"/>
<path d="M2194.5 1769h-9M2194.5 1613.3h-9M2194.5 1457.6h-9M2194.5 1301.9h-9M2194.5 1146.2h-9M2194.5 990.5h-9" stroke="#333" stroke-width="3" fill="none"/>
<text transform="translate(408 1781.86) scale(1.04 1)" font-size="41.5" text-anchor="end" font-weight="bold" fill="#1c1c1c">20:00</text>
<text transform="translate(408 1671.07) scale(1.04 1)" font-size="41.5" text-anchor="end" font-weight="bold" fill="#1c1c1c">21:00</text>
<text transform="translate(408 1560.29) scale(1.04 1)" font-size="41.5" text-anchor="end" font-weight="bold" fill="#1c1c1c">22:00</text>
<text transform="translate(408 1449.5) scale(1.04 1)" font-size="41.5" text-anchor="end" font-weight="bold" fill="#1c1c1c">23:00</text>
<text transform="translate(408 1338.71) scale(1.04 1)" font-size="41.5" text-anchor="end" font-weight="bold" fill="#1c1c1c">00:00</text>
<text transform="translate(408 1227.93) scale(1.04 1)" font-size="41.5" text-anchor="end" font-weight="bold" fill="#1c1c1c">01:00</text>
<text transform="translate(408 1117.14) scale(1.04 1)" font-size="41.5" text-anchor="end" font-weight="bold" fill="#1c1c1c">02:00</text>
<text transform="translate(408 1006.36) scale(1.04 1)" font-size="41.5" text-anchor="end" font-weight="bold" fill="#1c1c1c">03:00</text>
<text transform="translate(662.59 1836) scale(1.04 1)" font-size="41.5" text-anchor="middle" font-weight="bold" fill="#1c1c1c">5</text>
<text transform="translate(940.46 1836) scale(1.04 1)" font-size="41.5" text-anchor="middle" font-weight="bold" fill="#1c1c1c">10</text>
<text transform="translate(1218.33 1836) scale(1.04 1)" font-size="41.5" text-anchor="middle" font-weight="bold" fill="#1c1c1c">15</text>
<text transform="translate(1496.19 1836) scale(1.04 1)" font-size="41.5" text-anchor="middle" font-weight="bold" fill="#1c1c1c">20</text>
<text transform="translate(1774.06 1836) scale(1.04 1)" font-size="41.5" text-anchor="middle" font-weight="bold" fill="#1c1c1c">25</text>
<text transform="translate(2051.93 1836) scale(1.04 1)" font-size="41.5" text-anchor="middle" font-weight="bold" fill="#1c1c1c">30</text>
<text transform="translate(2203 1784.5) scale(1.06 1)" font-size="40.5" text-anchor="start" font-weight="normal" fill="#333" stroke="#333" stroke-width="0.9">0</text>
<text transform="translate(2203 1628.8) scale(1.06 1)" font-size="40.5" text-anchor="start" font-weight="normal" fill="#333" stroke="#333" stroke-width="0.9">20</text>
<text transform="translate(2203 1473.1) scale(1.06 1)" font-size="40.5" text-anchor="start" font-weight="normal" fill="#333" stroke="#333" stroke-width="0.9">40</text>
<text transform="translate(2203 1317.4) scale(1.06 1)" font-size="40.5" text-anchor="start" font-weight="normal" fill="#333" stroke="#333" stroke-width="0.9">60</text>
<text transform="translate(2203 1161.7) scale(1.06 1)" font-size="40.5" text-anchor="start" font-weight="normal" fill="#333" stroke="#333" stroke-width="0.9">80</text>
<text transform="translate(2203 1006) scale(1.06 1)" font-size="40.5" text-anchor="start" font-weight="normal" fill="#333" stroke="#333" stroke-width="0.9">100</text>
<text transform="translate(279 1377.25) scale(1.08 1) rotate(-90)" font-size="46.5" text-anchor="middle" font-weight="bold" fill="#1c1c1c">Local Time</text>
<text transform="translate(2289.5 1418) scale(1.08 1) rotate(-90)" font-size="45.5" text-anchor="middle" font-weight="normal" fill="#2a2a2a" stroke="#2a2a2a" stroke-width="0.9">Cloud Cover (%)</text>
<path d="M649.5 904H679.5V953H695.5L664.5 984L633.5 953H649.5Z" fill="#74ad4a"/>
<path d="M1387.8 908H1417.8V955.5H1433.8L1402.8 986.5L1371.8 955.5H1387.8Z" fill="#74ad4a"/>
<path d="M1479.4 908H1509.4V955.5H1525.4L1494.4 986.5L1463.4 955.5H1479.4Z" fill="#74ad4a"/>
<path d="M1551 908H1581V955.5H1597L1566 986.5L1535 955.5H1551Z" fill="#74ad4a"/>
<path d="M1708.4 908H1738.4V956.5H1754.4L1723.4 987.5L1692.4 956.5H1708.4Z" fill="#000"/>
<path d="M1894 904H1924V952H1940L1909 983L1878 952H1894Z" fill="#74ad4a"/>
<path d="M583 1794.5L612 1739L641 1794.5Z" fill="none" stroke="#dc2034" stroke-width="3.6" stroke-linejoin="miter"/>
<path d="M747.25 1799L781 1733L814.75 1799Z" fill="#000"/>
<path d="M1120 1795L1153.5 1732L1187 1795Z" fill="#000"/>
<path d="M1191 1795L1223.5 1732L1256 1795Z" fill="#000"/>
<path d="M1918 1789L1950 1728L1982 1789Z" fill="#000"/>
<text transform="translate(40 944)" font-size="89" text-anchor="start" font-weight="bold" fill="#0c0c0c">b)</text>
</g>
<defs><clipPath id="cc"><rect x="392.8" y="1937.8" width="1747.2" height="844.7"/></clipPath></defs>
<g clip-path="url(#cc)">
<rect x="392.8" y="1937.8" width="1747.2" height="844.7" fill="#fff"/>
<defs><linearGradient id="cst" x1="0" y1="0" x2="0" y2="1"><stop offset="0" stop-color="#1cf4dc"/><stop offset="0.35" stop-color="#10f2e6"/><stop offset="0.6" stop-color="#04eef4"/><stop offset="1" stop-color="#08f0f0"/></linearGradient><linearGradient id="chz" x1="0" y1="0" x2="0" y2="1"><stop offset="0" stop-color="#7cf0a8" stop-opacity="0"/><stop offset="0.5" stop-color="#7cf0a8" stop-opacity="1"/><stop offset="1" stop-color="#90f090" stop-opacity="1"/></linearGradient></defs>
<g filter="url(#soft2)">
<rect x="417" y="1933.8" width="43.2" height="852.7" fill="url(#cst)"/>
<rect x="472.36" y="1933.8" width="43.2" height="852.7" fill="url(#cst)"/>
<rect x="527.71" y="1933.8" width="43.2" height="852.7" fill="url(#cst)"/>
<rect x="583.07" y="1933.8" width="43.2" height="852.7" fill="url(#cst)"/>
<rect x="638.42" y="1933.8" width="43.2" height="852.7" fill="url(#cst)"/>
<rect x="693.77" y="1933.8" width="43.2" height="852.7" fill="url(#cst)"/>
<rect x="749.13" y="1933.8" width="43.2" height="852.7" fill="url(#cst)"/>
<rect x="804.48" y="1933.8" width="43.2" height="852.7" fill="url(#cst)"/>
<rect x="859.84" y="1933.8" width="43.2" height="852.7" fill="url(#cst)"/>
<rect x="915.19" y="1933.8" width="43.2" height="852.7" fill="url(#cst)"/>
<rect x="970.55" y="1933.8" width="43.2" height="852.7" fill="url(#cst)"/>
<rect x="1025.9" y="1933.8" width="43.2" height="852.7" fill="url(#cst)"/>
<rect x="1081.26" y="1933.8" width="43.2" height="852.7" fill="url(#cst)"/>
<rect x="1136.62" y="1933.8" width="43.2" height="852.7" fill="url(#cst)"/>
<rect x="1191.97" y="1933.8" width="43.2" height="852.7" fill="url(#cst)"/>
<rect x="1247.32" y="1933.8" width="43.2" height="852.7" fill="url(#cst)"/>
<rect x="1302.68" y="1933.8" width="43.2" height="852.7" fill="url(#cst)"/>
<rect x="1358.03" y="1933.8" width="43.2" height="852.7" fill="url(#cst)"/>
<rect x="1413.39" y="1933.8" width="43.2" height="852.7" fill="url(#cst)"/>
<rect x="1468.74" y="1933.8" width="43.2" height="852.7" fill="url(#cst)"/>
<rect x="1524.1" y="1933.8" width="43.2" height="852.7" fill="url(#cst)"/>
<rect x="1579.45" y="1933.8" width="43.2" height="852.7" fill="url(#cst)"/>
<rect x="1634.81" y="1933.8" width="43.2" height="852.7" fill="url(#cst)"/>
<rect x="1690.16" y="1933.8" width="43.2" height="852.7" fill="url(#cst)"/>
<rect x="1745.52" y="1933.8" width="43.2" height="852.7" fill="url(#cst)"/>
<rect x="1800.88" y="1933.8" width="43.2" height="852.7" fill="url(#cst)"/>
<rect x="1856.23" y="1933.8" width="43.2" height="852.7" fill="url(#cst)"/>
<rect x="1911.58" y="1933.8" width="43.2" height="852.7" fill="url(#cst)"/>
<rect x="1966.94" y="1933.8" width="43.2" height="852.7" fill="url(#cst)"/>
<rect x="2022.29" y="1933.8" width="43.2" height="852.7" fill="url(#cst)"/>
<rect x="2077.65" y="1933.8" width="43.2" height="852.7" fill="url(#cst)"/>
<rect x="417" y="2735" width="43.2" height="51.5" fill="url(#chz)" opacity="0.55"/>
<rect x="472.36" y="2755" width="43.2" height="31.5" fill="url(#chz)" opacity="0.3"/>
<rect x="527.71" y="2760" width="43.2" height="26.5" fill="url(#chz)" opacity="0.45"/>
<rect x="583.07" y="2765" width="43.2" height="21.5" fill="url(#chz)" opacity="0.3"/>
<rect x="749.13" y="2755" width="43.2" height="31.5" fill="url(#chz)" opacity="0.35"/>
<rect x="804.48" y="2750" width="43.2" height="36.5" fill="url(#chz)" opacity="0.35"/>
<rect x="859.84" y="2745" width="43.2" height="41.5" fill="url(#chz)" opacity="0.3"/>
<rect x="915.19" y="2750" width="43.2" height="36.5" fill="url(#chz)" opacity="0.3"/>
<rect x="970.55" y="2745" width="43.2" height="41.5" fill="url(#chz)" opacity="0.3"/>
<rect x="1025.9" y="2755" width="43.2" height="31.5" fill="url(#chz)" opacity="0.25"/>
<rect x="1081.26" y="2755" width="43.2" height="31.5" fill="url(#chz)" opacity="0.25"/>
<rect x="1191.97" y="2750" width="43.2" height="36.5" fill="url(#chz)" opacity="0.3"/>
<rect x="1247.32" y="2750" width="43.2" height="36.5" fill="url(#chz)" opacity="0.3"/>
<rect x="1302.68" y="2755" width="43.2" height="31.5" fill="url(#chz)" opacity="0.3"/>
<rect x="1358.03" y="2750" width="43.2" height="36.5" fill="url(#chz)" opacity="0.35"/>
<rect x="1413.39" y="2745" width="43.2" height="41.5" fill="url(#chz)" opacity="0.35"/>
<rect x="1468.74" y="2740" width="43.2" height="46.5" fill="url(#chz)" opacity="0.35"/>
<rect x="1524.1" y="2745" width="43.2" height="41.5" fill="url(#chz)" opacity="0.35"/>
<rect x="1579.45" y="2750" width="43.2" height="36.5" fill="url(#chz)" opacity="0.3"/>
<rect x="1634.81" y="2750" width="43.2" height="36.5" fill="url(#chz)" opacity="0.35"/>
<rect x="1690.16" y="2740" width="43.2" height="46.5" fill="url(#chz)" opacity="0.4"/>
<rect x="1745.52" y="2760" width="43.2" height="26.5" fill="url(#chz)" opacity="0.25"/>
<rect x="2022.29" y="2760" width="43.2" height="26.5" fill="url(#chz)" opacity="0.3"/>
<rect x="2077.65" y="2750" width="43.2" height="36.5" fill="url(#chz)" opacity="0.45"/>
<g filter="url(#soft)">
<ellipse cx="506" cy="2557" rx="10.5" ry="26.75" fill="#8e0a00"/>
<ellipse cx="506" cy="2532" rx="7.25" ry="9.24" fill="#9a5a28" opacity="0.8"/>
<ellipse cx="506" cy="2588" rx="7.25" ry="6.15" fill="#e07820" opacity="0.7"/>
<ellipse cx="537.5" cy="2334" rx="4" ry="30.87" fill="#4a5a50" opacity="0.75" transform="rotate(4 537.5 2334)"/>
<ellipse cx="535" cy="2372" rx="4" ry="21.6" fill="#9a5a28" opacity="0.45" transform="rotate(8 535 2372)"/>
<ellipse cx="538" cy="2308" rx="4" ry="8.21" fill="#c8e850" opacity="0.7"/>
<ellipse cx="784" cy="2326" rx="5.3" ry="29.84" fill="#c8e850" opacity="0.7" transform="rotate(-6 784 2326)"/>
<ellipse cx="785" cy="2338" rx="3.35" ry="16.45" fill="#9a5a28" opacity="0.6" transform="rotate(-6 785 2338)"/>
<ellipse cx="753" cy="2444" rx="5.3" ry="14.39" fill="#f0d020" opacity="0.7"/>
<ellipse cx="612" cy="2412" rx="4" ry="18.51" fill="#9a5a28" opacity="0.3"/>
<ellipse cx="602" cy="2631" rx="9.85" ry="11.3" fill="#c81e08"/>
<ellipse cx="589" cy="2677" rx="5.95" ry="34.99" fill="#e07820" opacity="0.8" transform="rotate(3 589 2677)"/>
<ellipse cx="589.5" cy="2675" rx="4" ry="21.6" fill="#9a5a28" opacity="0.6" transform="rotate(3 589.5 2675)"/>
<ellipse cx="591" cy="2612" rx="3.35" ry="21.6" fill="#4a5a50" opacity="0.4"/>
<ellipse cx="485" cy="2705" rx="7.9" ry="19.54" fill="#9a5a28" opacity="0.9" transform="rotate(-28 485 2705)"/>
<ellipse cx="484" cy="2696" rx="5.95" ry="8.21" fill="#4a5a50" opacity="0.5"/>
<ellipse cx="424" cy="2716" rx="6.6" ry="7.18" fill="#9a5a28" opacity="0.9" transform="rotate(-30 424 2716)"/>
<ellipse cx="428" cy="2732" rx="4.65" ry="8.21" fill="#78e8a0" opacity="0.6"/>
<ellipse cx="444" cy="2722" rx="4" ry="5.12" fill="#78e8a0" opacity="0.6"/>
<ellipse cx="717.5" cy="2694" rx="4.65" ry="11.3" fill="#4a5a50" opacity="0.8"/>
<ellipse cx="826" cy="2652" rx="9.85" ry="27.78" fill="#8e0a00" opacity="0.95"/>
<ellipse cx="826" cy="2630" rx="8.55" ry="11.3" fill="#9a5a28" opacity="0.7"/>
<ellipse cx="825" cy="2682" rx="5.95" ry="9.24" fill="#e07820" opacity="0.6"/>
<ellipse cx="892.5" cy="2445" rx="3.35" ry="47.35" fill="#4a5a50" opacity="0.45" transform="rotate(3 892.5 2445)"/>
<ellipse cx="917" cy="2480" rx="3.35" ry="31.9" fill="#e07820" opacity="0.4"/>
<ellipse cx="946" cy="2541" rx="4" ry="31.9" fill="#78e8a0" opacity="0.5"/>
<ellipse cx="950.5" cy="2655" rx="7.9" ry="42.2" fill="#8e0a00" opacity="0.95"/>
<ellipse cx="948" cy="2610" rx="7.25" ry="21.6" fill="#9a5a28" opacity="0.55"/>
<ellipse cx="951" cy="2710" rx="4.65" ry="21.6" fill="#e07820" opacity="0.5"/>
<ellipse cx="1029" cy="2417" rx="5.3" ry="52.5" fill="#9a5a28" opacity="0.7"/>
<ellipse cx="1030" cy="2420" rx="3.35" ry="26.75" fill="#8e0a00" opacity="0.6"/>
<ellipse cx="1028" cy="2372" rx="4.65" ry="13.36" fill="#f0d020" opacity="0.5"/>
<ellipse cx="1056" cy="2686" rx="8.55" ry="8.21" fill="#4a5a50" opacity="0.35"/>
<ellipse cx="1088" cy="2661" rx="3.35" ry="21.6" fill="#4a5a50" opacity="0.6"/>
<ellipse cx="1164.7" cy="2423" rx="13.1" ry="29.84" fill="#c8e850" opacity="0.6" transform="rotate(-10 1164.7 2423)"/>
<ellipse cx="1146.5" cy="2392" rx="6.6" ry="50.44" fill="#c8e850" opacity="0.9" transform="rotate(-3 1146.5 2392)"/>
<ellipse cx="1146" cy="2405" rx="4" ry="27.78" fill="#9a5a28" opacity="0.7" transform="rotate(-3 1146 2405)"/>
<ellipse cx="1164" cy="2447" rx="13.1" ry="18.51" fill="#e07820" opacity="0.95" transform="rotate(-8 1164 2447)"/>
<ellipse cx="1158" cy="2440" rx="5.95" ry="14.39" fill="#c81e08" opacity="0.7"/>
<ellipse cx="1170.5" cy="2513" rx="7.9" ry="54.56" fill="#8e0a00" transform="rotate(-3 1170.5 2513)"/>
<ellipse cx="1214" cy="2375" rx="6.6" ry="52.5" fill="#c8e850" opacity="0.85" transform="rotate(-2 1214 2375)"/>
<ellipse cx="1215" cy="2386" rx="3.68" ry="27.78" fill="#9a5a28" opacity="0.7"/>
<ellipse cx="1205.8" cy="2464" rx="5.3" ry="33.96" fill="#9a5a28" opacity="0.8" transform="rotate(6 1205.8 2464)"/>
<ellipse cx="1232" cy="2382" rx="4" ry="41.17" fill="#e07820" opacity="0.7"/>
<ellipse cx="1251.7" cy="2412" rx="3.35" ry="18.51" fill="#9a5a28" opacity="0.5"/>
<ellipse cx="1224" cy="2570" rx="5.3" ry="36.02" fill="#8e0a00" transform="rotate(-3 1224 2570)"/>
<ellipse cx="1262" cy="2545" rx="7.25" ry="48.38" fill="#8e0a00" transform="rotate(15 1262 2545)"/>
<ellipse cx="1200.5" cy="2708" rx="7.25" ry="8.21" fill="#c81e08" opacity="0.9"/>
<ellipse cx="1214" cy="2722" rx="3.35" ry="4.09" fill="#4a5a50" opacity="0.4"/>
<ellipse cx="1316" cy="2678" rx="8.23" ry="42.2" fill="#8e0a00" transform="rotate(-14 1316 2678)"/>
<ellipse cx="1361" cy="2454" rx="4" ry="17.48" fill="#4a5a50" opacity="0.5" transform="rotate(8 1361 2454)"/>
<ellipse cx="1442" cy="2691" rx="13.1" ry="5.63" fill="#5a1000"/>
<ellipse cx="1442" cy="2696" rx="12.45" ry="3.06" fill="#e07820" opacity="0.7"/>
<ellipse cx="1636.7" cy="2400" rx="5.3" ry="34.99" fill="#9a5a28" opacity="0.6"/>
<ellipse cx="1636" cy="2385" rx="4.65" ry="16.45" fill="#f0d020" opacity="0.5"/>
<ellipse cx="1670" cy="2404" rx="4" ry="24.69" fill="#c8e850" opacity="0.5"/>
<ellipse cx="1699.5" cy="2541" rx="6.6" ry="57.65" fill="#9a5a28" opacity="0.8" transform="rotate(-4 1699.5 2541)"/>
<ellipse cx="1698" cy="2520" rx="5.3" ry="26.75" fill="#e07820" opacity="0.7" transform="rotate(-4 1698 2520)"/>
<ellipse cx="1697" cy="2500" rx="5.95" ry="21.6" fill="#f0d020" opacity="0.5"/>
<ellipse cx="1672" cy="2698" rx="4.65" ry="10.27" fill="#4a5a50" opacity="0.7" transform="rotate(25 1672 2698)"/>
<ellipse cx="1486" cy="2555" rx="3.35" ry="16.45" fill="#78e8a0" opacity="0.4"/>
<ellipse cx="1755" cy="2683" rx="7.25" ry="9.24" fill="#c81e08" opacity="0.9" transform="rotate(-20 1755 2683)"/>
<ellipse cx="1770" cy="2694" rx="7.25" ry="8.21" fill="#9a5a28" opacity="0.9" transform="rotate(-20 1770 2694)"/>
<ellipse cx="1782" cy="2703" rx="5.95" ry="7.18" fill="#e07820" opacity="0.8"/>
<ellipse cx="1760" cy="2665" rx="4" ry="8.21" fill="#4a5a50" opacity="0.4"/>
<ellipse cx="1839" cy="2704.5" rx="4" ry="5.12" fill="#9a5a28" opacity="0.6"/>
<ellipse cx="1948" cy="2713" rx="3.35" ry="6.15" fill="#9a5a28" opacity="0.6"/>
<ellipse cx="1932" cy="2418" rx="9.85" ry="20.57" fill="#c81e08" opacity="0.95"/>
<ellipse cx="1933" cy="2398" rx="7.25" ry="8.21" fill="#f0d020" opacity="0.7"/>
<ellipse cx="2041.5" cy="2292" rx="7.25" ry="30.87" fill="#c8e850" opacity="0.6"/>
<ellipse cx="2027" cy="2425" rx="4" ry="60.74" fill="#9a5a28" opacity="0.5"/>
<ellipse cx="2058" cy="2437" rx="2.7" ry="73.1" fill="#78e8a0" opacity="0.5"/>
<ellipse cx="2047" cy="2390" rx="4" ry="4.09" fill="#4a5a50" opacity="0.4"/>
<ellipse cx="1971" cy="2669" rx="4.65" ry="16.45" fill="#9a5a28" opacity="0.8"/>
<ellipse cx="2056" cy="2700" rx="7.9" ry="8.21" fill="#c81e08" opacity="0.85"/>
<ellipse cx="2089" cy="2746" rx="4.65" ry="5.63" fill="#4a5a50" opacity="0.7"/>
<ellipse cx="1716" cy="2750" rx="11.15" ry="37.05" fill="#f0d020" opacity="0.85" transform="rotate(-8 1716 2750)"/>
<ellipse cx="1712" cy="2760" rx="7.25" ry="23.66" fill="#e07820" opacity="0.8" transform="rotate(-6 1712 2760)"/>
<ellipse cx="1716" cy="2779" rx="17.65" ry="5.12" fill="#c81e08" opacity="0.8"/>
<ellipse cx="823" cy="2690" rx="5.95" ry="31.9" fill="#e07820" opacity="0.6"/>
<ellipse cx="824" cy="2770" rx="7.25" ry="11.3" fill="#f0d020" opacity="0.7"/>
</g></g>
</g>
<g filter="url(#soft)">
<path d="M392.8 1937.8H2140V2783.5H392.8Z" fill="none" stroke="#262626" stroke-width="4"/>
<path d="M392.8 2691.6h-16M2140 2691.6h15M392.8 2597.6h-16M2140 2597.6h15M392.8 2503.6h-16M2140 2503.6h15M392.8 2409.6h-16M2140 2409.6h15M392.8 2315.6h-16M2140 2315.6h15M392.8 2221.6h-16M2140 2221.6h15M392.8 2127.6h-16M2140 2127.6h15M392.8 2033.6h-16M2140 2033.6h15M392.8 1939.6h-16M2140 1939.6h15M660.3 2782.5v17M660.3 1937.8v-15M936.3 2782.5v17M936.3 1937.8v-15M1212.3 2782.5v17M1212.3 1937.8v-15M1488.3 2782.5v17M1488.3 1937.8v-15M1764.3 2782.5v17M1764.3 1937.8v-15M2040.3 2782.5v17M2040.3 1937.8v-15" stroke="#262626" stroke-width="3.6" fill="none"/>
<defs><linearGradient id="cbc" x1="0" y1="1" x2="0" y2="0"><stop offset="0" stop-color="#00f0ff"/><stop offset="0.023" stop-color="#00ffff"/><stop offset="0.219" stop-color="#80ff80"/><stop offset="0.414" stop-color="#ffff00"/><stop offset="0.61" stop-color="#ff8000"/><stop offset="0.805" stop-color="#ff0000"/><stop offset="1" stop-color="#800000"/></linearGradient></defs>
<rect x="2156.5" y="1937.8" width="33" height="844.7" fill="url(#cbc)"/>
<rect x="2156.5" y="1937.8" width="33" height="844.7" fill="none" stroke="#555" stroke-opacity="0.75" stroke-width="4"/>
<path d="M2140 1937.8H2156.5" stroke="#262626" stroke-width="4"/>
<path d="M2195.5 2782.5h-8" stroke="#444" stroke-width="3"/>
<text transform="translate(2212 2799.5) scale(1.1 1)" font-size="42.5" text-anchor="start" font-weight="normal" fill="#333" stroke="#333" stroke-width="0.9">0</text>
<path d="M2195.5 2613.56h-8" stroke="#444" stroke-width="3"/>
<text transform="translate(2212 2630.56) scale(1.1 1)" font-size="42.5" text-anchor="start" font-weight="normal" fill="#333" stroke="#333" stroke-width="0.9">0.2</text>
<path d="M2195.5 2444.62h-8" stroke="#444" stroke-width="3"/>
<text transform="translate(2212 2461.62) scale(1.1 1)" font-size="42.5" text-anchor="start" font-weight="normal" fill="#333" stroke="#333" stroke-width="0.9">0.4</text>
<path d="M2195.5 2275.68h-8" stroke="#444" stroke-width="3"/>
<text transform="translate(2212 2292.68) scale(1.1 1)" font-size="42.5" text-anchor="start" font-weight="normal" fill="#333" stroke="#333" stroke-width="0.9">0.6</text>
<path d="M2195.5 2106.74h-8" stroke="#444" stroke-width="3"/>
<text transform="translate(2212 2123.74) scale(1.1 1)" font-size="42.5" text-anchor="start" font-weight="normal" fill="#333" stroke="#333" stroke-width="0.9">0.8</text>
<path d="M2195.5 1937.8h-8" stroke="#444" stroke-width="3"/>
<text transform="translate(2214 1953.8) scale(1.1 1)" font-size="42.5" text-anchor="start" font-weight="normal" fill="#333" stroke="#333" stroke-width="0.9">1</text>
<text transform="translate(2197 1922)" font-size="46" text-anchor="start" font-weight="normal" fill="#3c3c3c"><tspan font-size="46">×</tspan></text>
<text transform="translate(2231 1921)" font-size="50" text-anchor="start" font-weight="normal" fill="#303030" stroke="#303030" stroke-width="0.7">10</text>
<text transform="translate(2287 1895)" font-size="36" text-anchor="start" font-weight="normal" fill="#303030" stroke="#303030" stroke-width="0.6">-5</text>
<text transform="translate(2386.5 2848) scale(1.03 1) rotate(-90)" font-size="49.6" text-anchor="start" font-weight="normal" fill="#2a2a2a" stroke="#2a2a2a" stroke-width="0.9">Attenuated Backscatter Coefficient (m<tspan font-size="36" dy="-20" dx="3">-1</tspan><tspan dy="20" dx="4">sr</tspan><tspan font-size="36" dy="-20" dx="3">-1</tspan><tspan dy="20" dx="4">)</tspan></text>
<text transform="translate(358.8 2709.1) scale(1.05 1)" font-size="44" text-anchor="end" font-weight="bold" fill="#1c1c1c">2</text>
<text transform="translate(358.8 2615.1) scale(1.05 1)" font-size="44" text-anchor="end" font-weight="bold" fill="#1c1c1c">4</text>
<text transform="translate(358.8 2521.1) scale(1.05 1)" font-size="44" text-anchor="end" font-weight="bold" fill="#1c1c1c">6</text>
<text transform="translate(358.8 2427.1) scale(1.05 1)" font-size="44" text-anchor="end" font-weight="bold" fill="#1c1c1c">8</text>
<text transform="translate(358.8 2333.1) scale(1.05 1)" font-size="44" text-anchor="end" font-weight="bold" fill="#1c1c1c">10</text>
<text transform="translate(358.8 2239.1) scale(1.05 1)" font-size="44" text-anchor="end" font-weight="bold" fill="#1c1c1c">12</text>
<text transform="translate(358.8 2145.1) scale(1.05 1)" font-size="44" text-anchor="end" font-weight="bold" fill="#1c1c1c">14</text>
<text transform="translate(358.8 2051.1) scale(1.05 1)" font-size="44" text-anchor="end" font-weight="bold" fill="#1c1c1c">16</text>
<text transform="translate(358.8 1957.1) scale(1.05 1)" font-size="44" text-anchor="end" font-weight="bold" fill="#1c1c1c">18</text>
<text transform="translate(660.3 2862.5) scale(1.05 1)" font-size="44" text-anchor="middle" font-weight="bold" fill="#1c1c1c">5</text>
<text transform="translate(936.3 2862.5) scale(1.05 1)" font-size="44" text-anchor="middle" font-weight="bold" fill="#1c1c1c">10</text>
<text transform="translate(1212.3 2862.5) scale(1.05 1)" font-size="44" text-anchor="middle" font-weight="bold" fill="#1c1c1c">15</text>
<text transform="translate(1488.3 2862.5) scale(1.05 1)" font-size="44" text-anchor="middle" font-weight="bold" fill="#1c1c1c">20</text>
<text transform="translate(1764.3 2862.5) scale(1.05 1)" font-size="44" text-anchor="middle" font-weight="bold" fill="#1c1c1c">25</text>
<text transform="translate(2040.3 2862.5) scale(1.05 1)" font-size="44" text-anchor="middle" font-weight="bold" fill="#1c1c1c">30</text>
<text transform="translate(1267 2923)" font-size="46.5" text-anchor="middle" font-weight="bold" fill="#1c1c1c">Days</text>
<text transform="translate(293.5 2359) scale(1.05 1) rotate(-90)" font-size="46.5" text-anchor="middle" font-weight="bold" fill="#1c1c1c">Height (km)</text>
<path d="M580 2818.5L611 2750L642 2818.5Z" fill="none" stroke="#e0202c" stroke-width="3.6" stroke-linejoin="miter"/>
<path d="M741 2819L776 2741L811 2819Z" fill="#000"/>
<path d="M1117.6 2821L1150.6 2743L1183.6 2821Z" fill="#000"/>
<path d="M1186 2821L1219 2743L1252 2821Z" fill="#000"/>
<path d="M1903.5 2813L1937 2740L1970.5 2813Z" fill="#000"/>
<text transform="translate(42 1975)" font-size="89" text-anchor="start" font-weight="bold" fill="#0c0c0c">c)</text>
</g>
</svg></body></html>
